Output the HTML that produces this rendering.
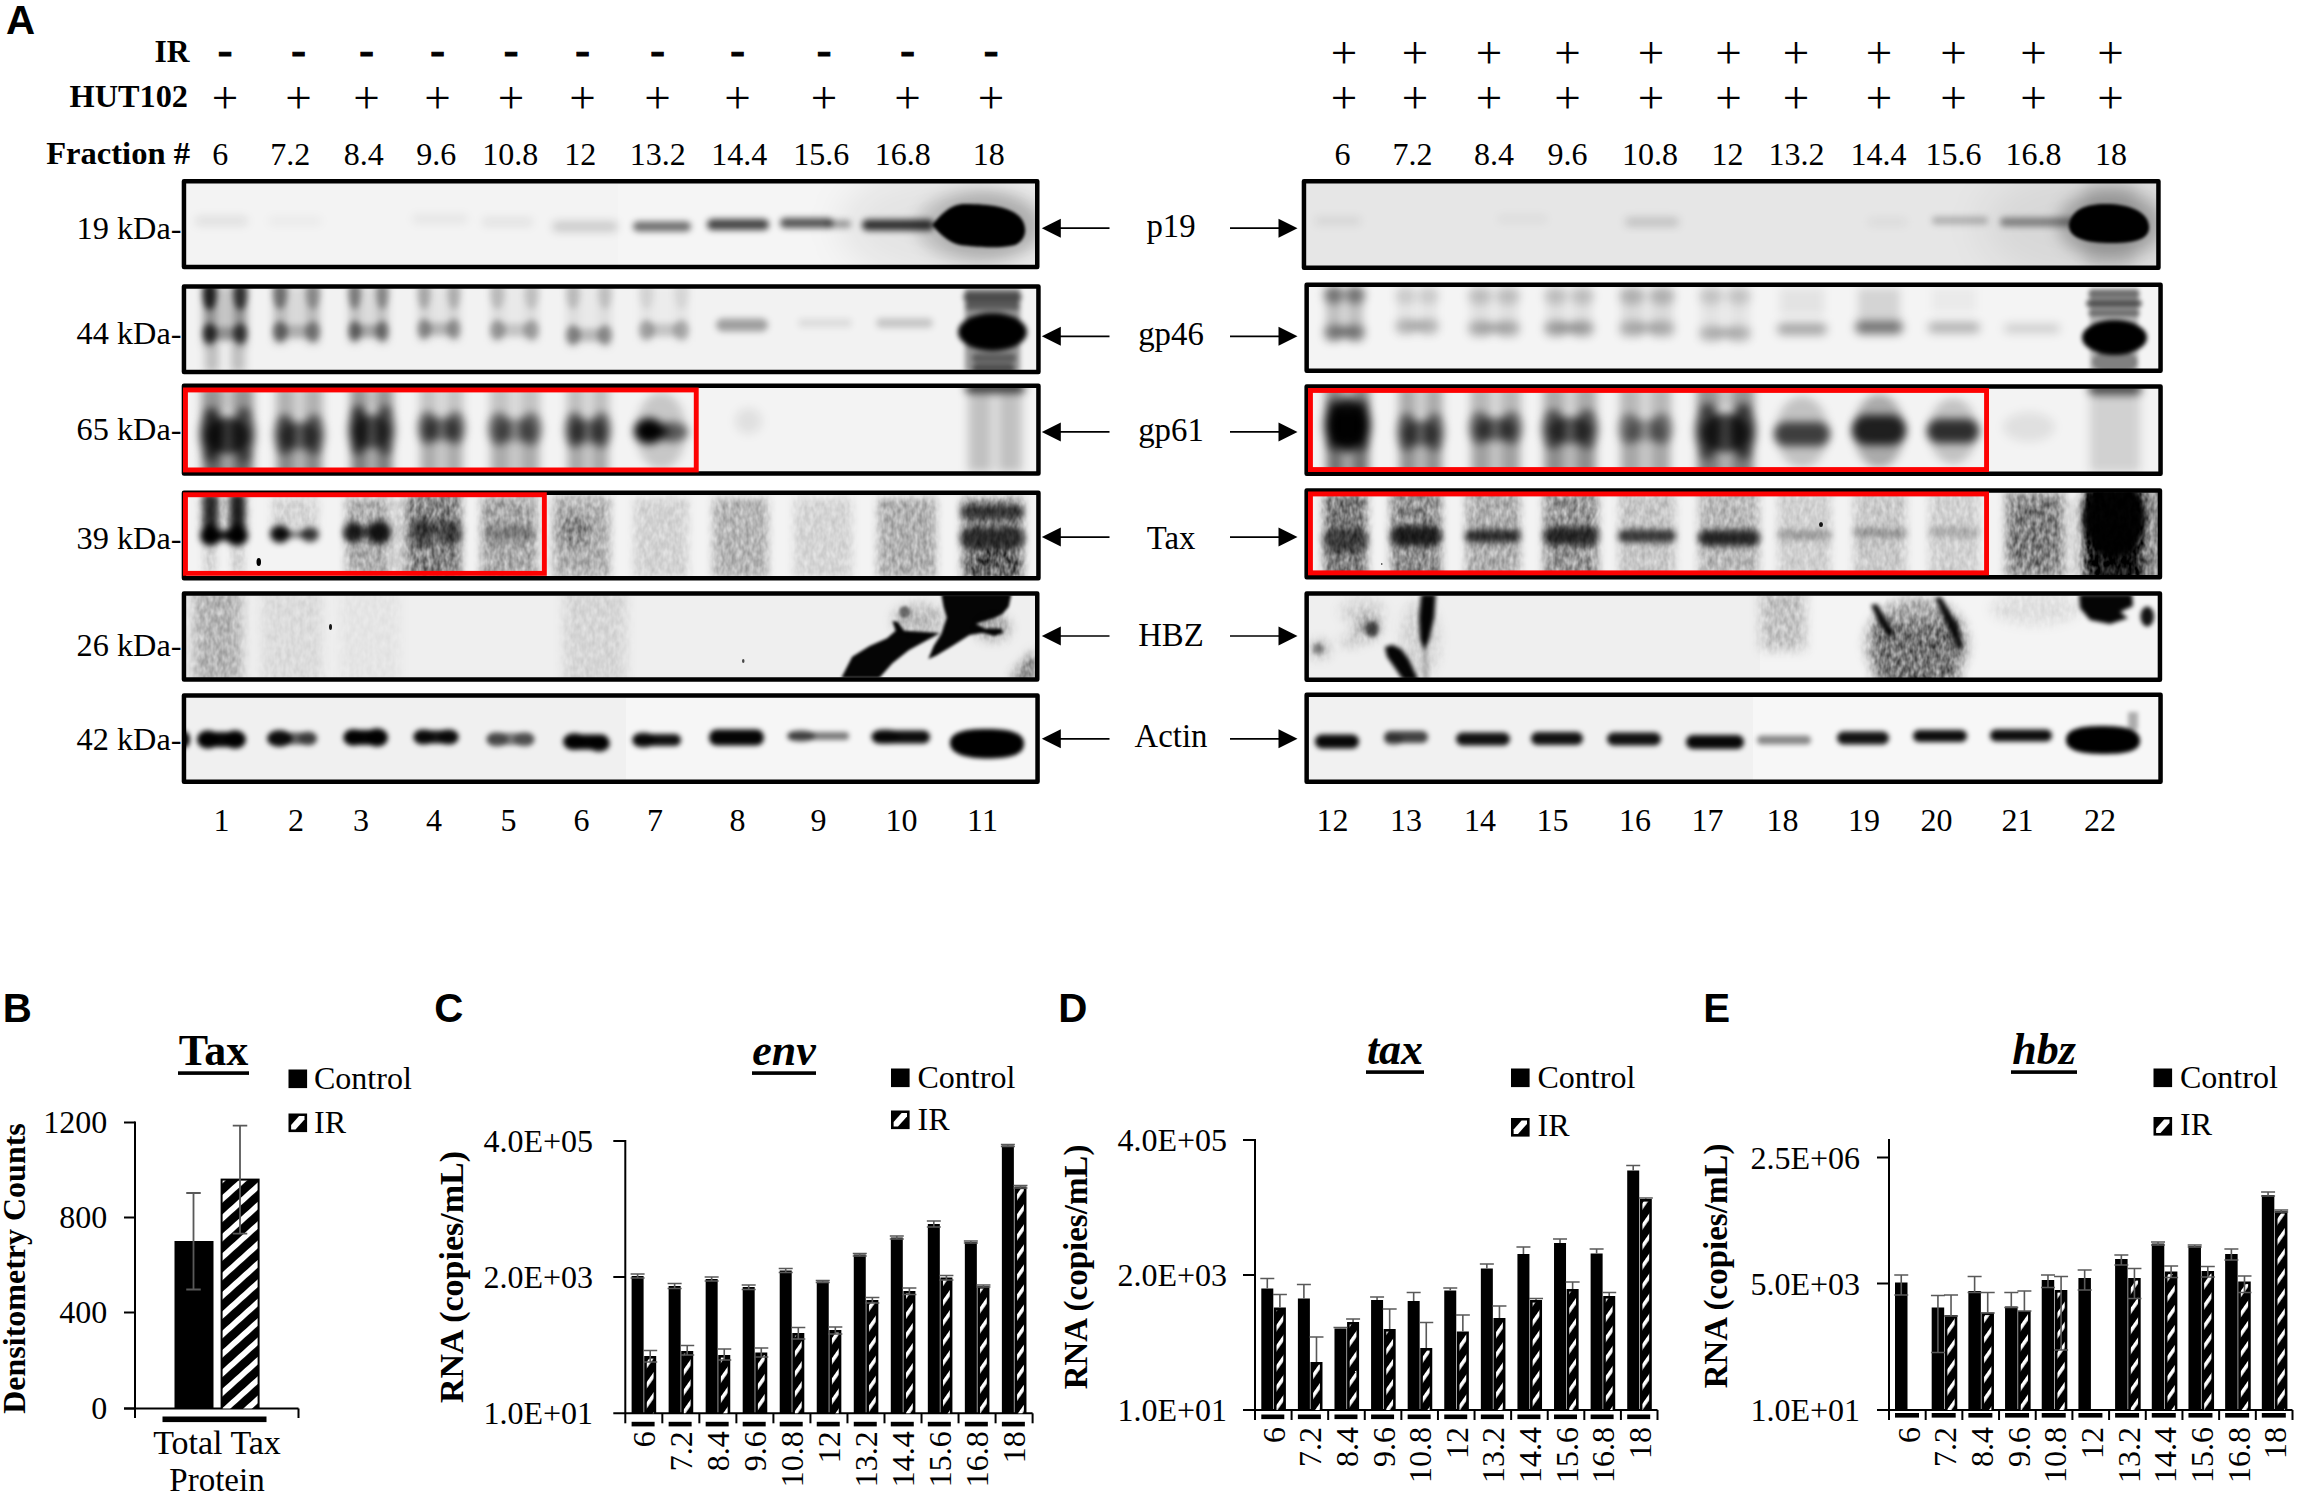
<!DOCTYPE html>
<html lang="en"><head><meta charset="utf-8"><title>Figure</title>
<style>
html,body{margin:0;padding:0;background:#fff;}
svg{display:block;}
.sf{font-family:"Liberation Serif",serif;fill:#000;}
.ss{font-family:"Liberation Sans",sans-serif;fill:#000;}
</style></head><body>
<svg width="2300" height="1497" viewBox="0 0 2300 1497">
<defs>
<filter id="bg4" x="-25%" y="-60%" width="150%" height="220%" color-interpolation-filters="sRGB"><feGaussianBlur stdDeviation="4" result="b"/><feTurbulence type="fractalNoise" baseFrequency="0.22 0.12" numOctaves="2" seed="7" result="n"/><feColorMatrix in="n" type="matrix" values="0 0 0 0 0  0 0 0 0 0  0 0 0 0 0  0 0 0 1 0" result="na"/><feComposite in="b" in2="na" operator="arithmetic" k1="1.5" k2="0.25" k3="0" k4="0"/></filter>
<filter id="bg6" x="-25%" y="-60%" width="150%" height="220%" color-interpolation-filters="sRGB"><feGaussianBlur stdDeviation="6" result="b"/><feTurbulence type="fractalNoise" baseFrequency="0.22 0.12" numOctaves="2" seed="7" result="n"/><feColorMatrix in="n" type="matrix" values="0 0 0 0 0  0 0 0 0 0  0 0 0 0 0  0 0 0 1 0" result="na"/><feComposite in="b" in2="na" operator="arithmetic" k1="1.5" k2="0.25" k3="0" k4="0"/></filter>
<filter id="b0_5" x="-25%" y="-60%" width="150%" height="220%"><feGaussianBlur stdDeviation="0.5"/></filter>
<filter id="b0_6" x="-25%" y="-60%" width="150%" height="220%"><feGaussianBlur stdDeviation="0.6"/></filter>
<filter id="b1_6" x="-25%" y="-60%" width="150%" height="220%"><feGaussianBlur stdDeviation="1.6"/></filter>
<filter id="b1_8" x="-25%" y="-60%" width="150%" height="220%"><feGaussianBlur stdDeviation="1.8"/></filter>
<filter id="b18" x="-25%" y="-60%" width="150%" height="220%"><feGaussianBlur stdDeviation="18"/></filter>
<filter id="b2" x="-25%" y="-60%" width="150%" height="220%"><feGaussianBlur stdDeviation="2"/></filter>
<filter id="b2_3" x="-25%" y="-60%" width="150%" height="220%"><feGaussianBlur stdDeviation="2.3"/></filter>
<filter id="b2_4" x="-25%" y="-60%" width="150%" height="220%"><feGaussianBlur stdDeviation="2.4"/></filter>
<filter id="b2_5" x="-25%" y="-60%" width="150%" height="220%"><feGaussianBlur stdDeviation="2.5"/></filter>
<filter id="b3" x="-25%" y="-60%" width="150%" height="220%"><feGaussianBlur stdDeviation="3"/></filter>
<filter id="b3_2" x="-25%" y="-60%" width="150%" height="220%"><feGaussianBlur stdDeviation="3.2"/></filter>
<filter id="b3_4" x="-25%" y="-60%" width="150%" height="220%"><feGaussianBlur stdDeviation="3.4"/></filter>
<filter id="b4" x="-25%" y="-60%" width="150%" height="220%"><feGaussianBlur stdDeviation="4"/></filter>
<filter id="b4_5" x="-25%" y="-60%" width="150%" height="220%"><feGaussianBlur stdDeviation="4.5"/></filter>
<filter id="b4_6" x="-25%" y="-60%" width="150%" height="220%"><feGaussianBlur stdDeviation="4.6"/></filter>
<filter id="b5" x="-25%" y="-60%" width="150%" height="220%"><feGaussianBlur stdDeviation="5"/></filter>
<filter id="b7" x="-25%" y="-60%" width="150%" height="220%"><feGaussianBlur stdDeviation="7"/></filter>
<pattern id="hatch" patternUnits="userSpaceOnUse" width="14.4" height="14.4" patternTransform="rotate(-42)">
<rect x="0" y="0" width="14.4" height="14.4" fill="#000"/><rect x="0" y="0" width="14.4" height="5.8" fill="#fff"/>
</pattern>
<pattern id="hatchS" patternUnits="userSpaceOnUse" width="11.5" height="11.5" patternTransform="rotate(-55)">
<rect x="0" y="0" width="11.5" height="11.5" fill="#000"/><rect x="0" y="0" width="11.5" height="3.6" fill="#fff"/>
</pattern>
</defs>
<rect x="0" y="0" width="2300" height="1497" fill="#fff"/>
<text class="ss" x="6" y="33.9" font-size="40.3" style="font-weight:bold;">A</text>
<text class="sf" x="189.5" y="61.5" font-size="31.5" text-anchor="end" style="font-weight:bold;" >IR</text>
<text class="sf" x="188" y="106.8" font-size="32.3" text-anchor="end" style="font-weight:bold;" >HUT102</text>
<text class="sf" x="190" y="163.8" font-size="32.6" text-anchor="end" style="font-weight:bold;" >Fraction #</text>
<text class="sf" x="225" y="64.9" font-size="44" text-anchor="middle" stroke="#000" stroke-width="1" style="font-weight:bold;">-</text>
<text class="sf" x="225" y="113.4" font-size="47" text-anchor="middle">+</text>
<text class="sf" x="298.5" y="64.9" font-size="44" text-anchor="middle" stroke="#000" stroke-width="1" style="font-weight:bold;">-</text>
<text class="sf" x="298.5" y="113.4" font-size="47" text-anchor="middle">+</text>
<text class="sf" x="366.5" y="64.9" font-size="44" text-anchor="middle" stroke="#000" stroke-width="1" style="font-weight:bold;">-</text>
<text class="sf" x="366.5" y="113.4" font-size="47" text-anchor="middle">+</text>
<text class="sf" x="437.5" y="64.9" font-size="44" text-anchor="middle" stroke="#000" stroke-width="1" style="font-weight:bold;">-</text>
<text class="sf" x="437.5" y="113.4" font-size="47" text-anchor="middle">+</text>
<text class="sf" x="511" y="64.9" font-size="44" text-anchor="middle" stroke="#000" stroke-width="1" style="font-weight:bold;">-</text>
<text class="sf" x="511" y="113.4" font-size="47" text-anchor="middle">+</text>
<text class="sf" x="582.5" y="64.9" font-size="44" text-anchor="middle" stroke="#000" stroke-width="1" style="font-weight:bold;">-</text>
<text class="sf" x="582.5" y="113.4" font-size="47" text-anchor="middle">+</text>
<text class="sf" x="657.5" y="64.9" font-size="44" text-anchor="middle" stroke="#000" stroke-width="1" style="font-weight:bold;">-</text>
<text class="sf" x="657.5" y="113.4" font-size="47" text-anchor="middle">+</text>
<text class="sf" x="737.5" y="64.9" font-size="44" text-anchor="middle" stroke="#000" stroke-width="1" style="font-weight:bold;">-</text>
<text class="sf" x="737.5" y="113.4" font-size="47" text-anchor="middle">+</text>
<text class="sf" x="824" y="64.9" font-size="44" text-anchor="middle" stroke="#000" stroke-width="1" style="font-weight:bold;">-</text>
<text class="sf" x="824" y="113.4" font-size="47" text-anchor="middle">+</text>
<text class="sf" x="907.5" y="64.9" font-size="44" text-anchor="middle" stroke="#000" stroke-width="1" style="font-weight:bold;">-</text>
<text class="sf" x="907.5" y="113.4" font-size="47" text-anchor="middle">+</text>
<text class="sf" x="991" y="64.9" font-size="44" text-anchor="middle" stroke="#000" stroke-width="1" style="font-weight:bold;">-</text>
<text class="sf" x="991" y="113.4" font-size="47" text-anchor="middle">+</text>
<text class="sf" x="1344" y="68.4" font-size="47" text-anchor="middle">+</text>
<text class="sf" x="1344" y="113.4" font-size="47" text-anchor="middle">+</text>
<text class="sf" x="1415" y="68.4" font-size="47" text-anchor="middle">+</text>
<text class="sf" x="1415" y="113.4" font-size="47" text-anchor="middle">+</text>
<text class="sf" x="1489" y="68.4" font-size="47" text-anchor="middle">+</text>
<text class="sf" x="1489" y="113.4" font-size="47" text-anchor="middle">+</text>
<text class="sf" x="1567.5" y="68.4" font-size="47" text-anchor="middle">+</text>
<text class="sf" x="1567.5" y="113.4" font-size="47" text-anchor="middle">+</text>
<text class="sf" x="1651" y="68.4" font-size="47" text-anchor="middle">+</text>
<text class="sf" x="1651" y="113.4" font-size="47" text-anchor="middle">+</text>
<text class="sf" x="1728.5" y="68.4" font-size="47" text-anchor="middle">+</text>
<text class="sf" x="1728.5" y="113.4" font-size="47" text-anchor="middle">+</text>
<text class="sf" x="1796" y="68.4" font-size="47" text-anchor="middle">+</text>
<text class="sf" x="1796" y="113.4" font-size="47" text-anchor="middle">+</text>
<text class="sf" x="1879" y="68.4" font-size="47" text-anchor="middle">+</text>
<text class="sf" x="1879" y="113.4" font-size="47" text-anchor="middle">+</text>
<text class="sf" x="1953.5" y="68.4" font-size="47" text-anchor="middle">+</text>
<text class="sf" x="1953.5" y="113.4" font-size="47" text-anchor="middle">+</text>
<text class="sf" x="2033.5" y="68.4" font-size="47" text-anchor="middle">+</text>
<text class="sf" x="2033.5" y="113.4" font-size="47" text-anchor="middle">+</text>
<text class="sf" x="2110.5" y="68.4" font-size="47" text-anchor="middle">+</text>
<text class="sf" x="2110.5" y="113.4" font-size="47" text-anchor="middle">+</text>
<text class="sf" x="220.3" y="164.6" font-size="32" text-anchor="middle" style="" >6</text>
<text class="sf" x="290.3" y="164.6" font-size="32" text-anchor="middle" style="" >7.2</text>
<text class="sf" x="363.8" y="164.6" font-size="32" text-anchor="middle" style="" >8.4</text>
<text class="sf" x="436.3" y="164.6" font-size="32" text-anchor="middle" style="" >9.6</text>
<text class="sf" x="510.3" y="164.6" font-size="32" text-anchor="middle" style="" >10.8</text>
<text class="sf" x="580.3" y="164.6" font-size="32" text-anchor="middle" style="" >12</text>
<text class="sf" x="657.8" y="164.6" font-size="32" text-anchor="middle" style="" >13.2</text>
<text class="sf" x="739.3" y="164.6" font-size="32" text-anchor="middle" style="" >14.4</text>
<text class="sf" x="821.3" y="164.6" font-size="32" text-anchor="middle" style="" >15.6</text>
<text class="sf" x="902.8" y="164.6" font-size="32" text-anchor="middle" style="" >16.8</text>
<text class="sf" x="988.8" y="164.6" font-size="32" text-anchor="middle" style="" >18</text>
<text class="sf" x="1342.5" y="164.5" font-size="32" text-anchor="middle" style="" >6</text>
<text class="sf" x="1412.5" y="164.5" font-size="32" text-anchor="middle" style="" >7.2</text>
<text class="sf" x="1494" y="164.5" font-size="32" text-anchor="middle" style="" >8.4</text>
<text class="sf" x="1567.5" y="164.5" font-size="32" text-anchor="middle" style="" >9.6</text>
<text class="sf" x="1650" y="164.5" font-size="32" text-anchor="middle" style="" >10.8</text>
<text class="sf" x="1727.5" y="164.5" font-size="32" text-anchor="middle" style="" >12</text>
<text class="sf" x="1796.5" y="164.5" font-size="32" text-anchor="middle" style="" >13.2</text>
<text class="sf" x="1878.5" y="164.5" font-size="32" text-anchor="middle" style="" >14.4</text>
<text class="sf" x="1953.5" y="164.5" font-size="32" text-anchor="middle" style="" >15.6</text>
<text class="sf" x="2033.5" y="164.5" font-size="32" text-anchor="middle" style="" >16.8</text>
<text class="sf" x="2111" y="164.5" font-size="32" text-anchor="middle" style="" >18</text>
<text class="sf" x="221.5" y="831" font-size="32" text-anchor="middle" style="" >1</text>
<text class="sf" x="296" y="831" font-size="32" text-anchor="middle" style="" >2</text>
<text class="sf" x="361" y="831" font-size="32" text-anchor="middle" style="" >3</text>
<text class="sf" x="434" y="831" font-size="32" text-anchor="middle" style="" >4</text>
<text class="sf" x="508.5" y="831" font-size="32" text-anchor="middle" style="" >5</text>
<text class="sf" x="581.5" y="831" font-size="32" text-anchor="middle" style="" >6</text>
<text class="sf" x="655" y="831" font-size="32" text-anchor="middle" style="" >7</text>
<text class="sf" x="737.5" y="831" font-size="32" text-anchor="middle" style="" >8</text>
<text class="sf" x="818.5" y="831" font-size="32" text-anchor="middle" style="" >9</text>
<text class="sf" x="901.5" y="831" font-size="32" text-anchor="middle" style="" >10</text>
<text class="sf" x="982.5" y="831" font-size="32" text-anchor="middle" style="" >11</text>
<text class="sf" x="1332.5" y="831" font-size="32" text-anchor="middle" style="" >12</text>
<text class="sf" x="1406" y="831" font-size="32" text-anchor="middle" style="" >13</text>
<text class="sf" x="1480" y="831" font-size="32" text-anchor="middle" style="" >14</text>
<text class="sf" x="1552.5" y="831" font-size="32" text-anchor="middle" style="" >15</text>
<text class="sf" x="1635" y="831" font-size="32" text-anchor="middle" style="" >16</text>
<text class="sf" x="1707.5" y="831" font-size="32" text-anchor="middle" style="" >17</text>
<text class="sf" x="1782.5" y="831" font-size="32" text-anchor="middle" style="" >18</text>
<text class="sf" x="1864" y="831" font-size="32" text-anchor="middle" style="" >19</text>
<text class="sf" x="1936.5" y="831" font-size="32" text-anchor="middle" style="" >20</text>
<text class="sf" x="2017.5" y="831" font-size="32" text-anchor="middle" style="" >21</text>
<text class="sf" x="2100" y="831" font-size="32" text-anchor="middle" style="" >22</text>
<text class="sf" x="181.5" y="238.8" font-size="32.3" text-anchor="end" style="" >19 kDa-</text>
<text class="sf" x="181.5" y="344.3" font-size="32.3" text-anchor="end" style="" >44 kDa-</text>
<text class="sf" x="181.5" y="440" font-size="32.3" text-anchor="end" style="" >65 kDa-</text>
<text class="sf" x="181.5" y="549" font-size="32.3" text-anchor="end" style="" >39 kDa-</text>
<text class="sf" x="181.5" y="656.2" font-size="32.3" text-anchor="end" style="" >26 kDa-</text>
<text class="sf" x="181.5" y="749.8" font-size="32.3" text-anchor="end" style="" >42 kDa-</text>
<text class="sf" x="1171" y="237.1" font-size="32.8" text-anchor="middle" style="" >p19</text>
<line x1="1109.5" y1="228.2" x2="1051.8" y2="228.2" stroke="#000" stroke-width="1.7"/>
<polygon points="1041.8,228.2 1060.8,218.7 1060.8,237.7" fill="#000"/>
<line x1="1230" y1="228.2" x2="1287.5" y2="228.2" stroke="#000" stroke-width="1.7"/>
<polygon points="1297.5,228.2 1278.5,218.7 1278.5,237.7" fill="#000"/>
<text class="sf" x="1171" y="344.9" font-size="32.8" text-anchor="middle" style="" >gp46</text>
<line x1="1109.5" y1="336.3" x2="1051.8" y2="336.3" stroke="#000" stroke-width="1.7"/>
<polygon points="1041.8,336.3 1060.8,326.8 1060.8,345.8" fill="#000"/>
<line x1="1230" y1="336.3" x2="1287.5" y2="336.3" stroke="#000" stroke-width="1.7"/>
<polygon points="1297.5,336.3 1278.5,326.8 1278.5,345.8" fill="#000"/>
<text class="sf" x="1171" y="441" font-size="32.8" text-anchor="middle" style="" >gp61</text>
<line x1="1109.5" y1="431.9" x2="1051.8" y2="431.9" stroke="#000" stroke-width="1.7"/>
<polygon points="1041.8,431.9 1060.8,422.4 1060.8,441.4" fill="#000"/>
<line x1="1230" y1="431.9" x2="1287.5" y2="431.9" stroke="#000" stroke-width="1.7"/>
<polygon points="1297.5,431.9 1278.5,422.4 1278.5,441.4" fill="#000"/>
<text class="sf" x="1171" y="548.5" font-size="32.8" text-anchor="middle" style="" >Tax</text>
<line x1="1109.5" y1="537.1" x2="1051.8" y2="537.1" stroke="#000" stroke-width="1.7"/>
<polygon points="1041.8,537.1 1060.8,527.6 1060.8,546.6" fill="#000"/>
<line x1="1230" y1="537.1" x2="1287.5" y2="537.1" stroke="#000" stroke-width="1.7"/>
<polygon points="1297.5,537.1 1278.5,527.6 1278.5,546.6" fill="#000"/>
<text class="sf" x="1171" y="646" font-size="32.8" text-anchor="middle" style="" >HBZ</text>
<line x1="1109.5" y1="636" x2="1051.8" y2="636" stroke="#000" stroke-width="1.7"/>
<polygon points="1041.8,636 1060.8,626.5 1060.8,645.5" fill="#000"/>
<line x1="1230" y1="636" x2="1287.5" y2="636" stroke="#000" stroke-width="1.7"/>
<polygon points="1297.5,636 1278.5,626.5 1278.5,645.5" fill="#000"/>
<text class="sf" x="1171" y="747" font-size="32.8" text-anchor="middle" style="" >Actin</text>
<line x1="1109.5" y1="738.8" x2="1051.8" y2="738.8" stroke="#000" stroke-width="1.7"/>
<polygon points="1041.8,738.8 1060.8,729.3 1060.8,748.3" fill="#000"/>
<line x1="1230" y1="738.8" x2="1287.5" y2="738.8" stroke="#000" stroke-width="1.7"/>
<polygon points="1297.5,738.8 1278.5,729.3 1278.5,748.3" fill="#000"/>
<clipPath id="cp1"><rect x="185.7" y="183.1" width="849.8" height="82.20000000000002"/></clipPath>
<g clip-path="url(#cp1)">
<rect x="185.7" y="183.1" width="849.8" height="82.20000000000002" fill="#f3f3f3"/>
<rect x="618" y="183.1" width="422" height="82.20000000000002" fill="#f5f5f5"/>
<g filter="url(#b18)">
<ellipse cx="965.0" cy="225.0" rx="125.0" ry="60.0" fill="#000" fill-opacity="0.07"/>
</g>
<g filter="url(#b7)">
<ellipse cx="980.0" cy="226.0" rx="65.0" ry="38.0" fill="#000" fill-opacity="0.14"/>
<ellipse cx="985.0" cy="225.5" rx="50.0" ry="30.5" fill="#000" fill-opacity="0.12"/>
</g>
<g filter="url(#b4)">
<path d="M200.0,216.0 H243.0 A5.0,5.0 0 0 1 243.0,226.0 H200.0 A5.0,5.0 0 0 1 200.0,216.0 Z" fill="#000" fill-opacity="0.08"/>
<path d="M272.5,216.5 H317.5 A4.5,4.5 0 0 1 317.5,225.5 H272.5 A4.5,4.5 0 0 1 272.5,216.5 Z" fill="#000" fill-opacity="0.035"/>
<path d="M417.0,214.0 H463.0 A5.0,5.0 0 0 1 463.0,224.0 H417.0 A5.0,5.0 0 0 1 417.0,214.0 Z" fill="#000" fill-opacity="0.05"/>
<path d="M486.5,217.5 H528.5 A4.5,4.5 0 0 1 528.5,226.5 H486.5 A4.5,4.5 0 0 1 486.5,217.5 Z" fill="#000" fill-opacity="0.07"/>
<path d="M557.5,221.0 H612.5 A5.5,5.5 0 0 1 612.5,232.0 H557.5 A5.5,5.5 0 0 1 557.5,221.0 Z" fill="#000" fill-opacity="0.16"/>
</g>
<g filter="url(#b3_2)">
<path d="M638.0,221.5 H686.0 A5.0,5.0 0 0 1 686.0,231.5 H638.0 A5.0,5.0 0 0 1 638.0,221.5 Z" fill="#000" fill-opacity="0.55"/>
<path d="M712.5,219.0 H763.5 A5.5,5.5 0 0 1 763.5,230.0 H712.5 A5.5,5.5 0 0 1 712.5,219.0 Z" fill="#000" fill-opacity="0.72"/>
<path d="M785.0,218.0 H828.0 A5.0,5.0 0 0 1 828.0,228.0 H785.0 A5.0,5.0 0 0 1 785.0,218.0 Z" fill="#000" fill-opacity="0.66"/>
<path d="M830.0,220.0 H847.0 A4.0,4.0 0 0 1 847.0,228.0 H830.0 A4.0,4.0 0 0 1 830.0,220.0 Z" fill="#000" fill-opacity="0.36"/>
<path d="M867.5,219.5 H928.5 A5.5,5.5 0 0 1 928.5,230.5 H867.5 A5.5,5.5 0 0 1 867.5,219.5 Z" fill="#000" fill-opacity="0.8"/>
</g>
<g filter="url(#b1_6)">
<path d="M932,225 C942,214 950,204 965,204 C990,204 1010,207 1020,217 C1028,226 1027,240 1015,245 C1000,249 975,247 960,245 C948,242 940,234 932,225 Z" fill="#000" fill-opacity="1"/>
</g>
</g>
<rect x="183.95" y="181.35" width="853.3" height="85.70000000000002" fill="none" stroke="#000" stroke-width="4.5" stroke-linejoin="round"/>
<clipPath id="cp2"><rect x="185.7" y="288.3" width="851.0" height="82.0"/></clipPath>
<g clip-path="url(#cp2)">
<rect x="185.7" y="288.3" width="851.0" height="82.0" fill="#f2f2f2"/>
<g filter="url(#b4)">
<rect x="204" y="286" width="11.340000000000003" height="59.5" fill="#000" fill-opacity="0.45"/>
<rect x="234.66" y="286" width="11.340000000000003" height="59.5" fill="#000" fill-opacity="0.45"/>
<rect x="215.34" y="286" width="19.319999999999993" height="55.5" fill="#000" fill-opacity="0.18"/>
<rect x="274" y="286" width="12.149999999999977" height="57.5" fill="#000" fill-opacity="0.252"/>
<rect x="306.85" y="286" width="12.149999999999977" height="57.5" fill="#000" fill-opacity="0.252"/>
<rect x="286.15" y="286" width="20.700000000000045" height="53.5" fill="#000" fill-opacity="0.101"/>
<rect x="349.5" y="286" width="10.259999999999991" height="57" fill="#000" fill-opacity="0.228"/>
<rect x="377.24" y="286" width="10.259999999999991" height="57" fill="#000" fill-opacity="0.228"/>
<rect x="359.76" y="286" width="17.480000000000018" height="53" fill="#000" fill-opacity="0.091"/>
<rect x="418.5" y="286" width="11.069999999999993" height="55" fill="#000" fill-opacity="0.132"/>
<rect x="448.43" y="286" width="11.069999999999993" height="55" fill="#000" fill-opacity="0.132"/>
<rect x="429.57" y="286" width="18.860000000000014" height="51" fill="#000" fill-opacity="0.053"/>
<rect x="491" y="286" width="12.689999999999998" height="56" fill="#000" fill-opacity="0.096"/>
<rect x="525.31" y="286" width="12.690000000000055" height="56" fill="#000" fill-opacity="0.096"/>
<rect x="503.69" y="286" width="21.619999999999948" height="52" fill="#000" fill-opacity="0.038"/>
<rect x="567" y="286" width="11.879999999999995" height="61" fill="#000" fill-opacity="0.096"/>
<rect x="599.12" y="286" width="11.879999999999995" height="61" fill="#000" fill-opacity="0.096"/>
<rect x="578.88" y="286" width="20.24000000000001" height="57" fill="#000" fill-opacity="0.038"/>
<rect x="640" y="286" width="12.960000000000036" height="56" fill="#000" fill-opacity="0.06"/>
<rect x="675.04" y="286" width="12.960000000000036" height="56" fill="#000" fill-opacity="0.06"/>
<rect x="652.96" y="286" width="22.079999999999927" height="52" fill="#000" fill-opacity="0.024"/>
<rect x="205" y="345" width="14" height="27" fill="#000" fill-opacity="0.22"/>
<rect x="231" y="345" width="14" height="27" fill="#000" fill-opacity="0.22"/>
</g>
<g filter="url(#b3_4)">
<ellipse cx="209.67000000000002" cy="294.0" rx="6.670000000000002" ry="16.0" fill="#000" fill-opacity="0.8"/>
<ellipse cx="240.32999999999998" cy="294.0" rx="6.670000000000002" ry="16.0" fill="#000" fill-opacity="0.68"/>
<ellipse cx="209.67000000000002" cy="333.5" rx="6.670000000000002" ry="10.0" fill="#000" fill-opacity="0.75"/>
<ellipse cx="240.32999999999998" cy="333.5" rx="6.670000000000002" ry="10.0" fill="#000" fill-opacity="0.675"/>
<rect x="213.072" y="327.0" width="23.855999999999995" height="13.0" fill="#000" fill-opacity="0.27"/>
<ellipse cx="280.075" cy="293.5" rx="7.074999999999989" ry="15.5" fill="#000" fill-opacity="0.42"/>
<ellipse cx="312.925" cy="293.5" rx="7.074999999999989" ry="15.5" fill="#000" fill-opacity="0.28"/>
<ellipse cx="280.075" cy="331.5" rx="7.074999999999989" ry="10.0" fill="#000" fill-opacity="0.5"/>
<ellipse cx="312.925" cy="331.5" rx="7.074999999999989" ry="10.0" fill="#000" fill-opacity="0.4"/>
<rect x="283.72" y="325.0" width="25.559999999999945" height="13.0" fill="#000" fill-opacity="0.2"/>
<ellipse cx="354.63" cy="293.5" rx="6.1299999999999955" ry="15.5" fill="#000" fill-opacity="0.38"/>
<ellipse cx="382.37" cy="293.5" rx="6.1299999999999955" ry="15.5" fill="#000" fill-opacity="0.323"/>
<ellipse cx="354.63" cy="331.0" rx="6.1299999999999955" ry="10.0" fill="#000" fill-opacity="0.52"/>
<ellipse cx="382.37" cy="331.0" rx="6.1299999999999955" ry="10.0" fill="#000" fill-opacity="0.468"/>
<rect x="357.708" y="324.5" width="21.583999999999946" height="13.0" fill="#000" fill-opacity="0.25"/>
<ellipse cx="424.03499999999997" cy="293.5" rx="6.534999999999997" ry="15.5" fill="#000" fill-opacity="0.22"/>
<ellipse cx="453.96500000000003" cy="293.5" rx="6.534999999999997" ry="15.5" fill="#000" fill-opacity="0.187"/>
<ellipse cx="424.03499999999997" cy="329.0" rx="6.534999999999997" ry="10.0" fill="#000" fill-opacity="0.38"/>
<ellipse cx="453.96500000000003" cy="329.0" rx="6.534999999999997" ry="10.0" fill="#000" fill-opacity="0.342"/>
<rect x="427.356" y="322.5" width="23.28800000000001" height="13.0" fill="#000" fill-opacity="0.213"/>
<ellipse cx="497.345" cy="293.5" rx="7.344999999999999" ry="15.5" fill="#000" fill-opacity="0.16"/>
<ellipse cx="531.655" cy="293.5" rx="7.345000000000027" ry="15.5" fill="#000" fill-opacity="0.136"/>
<ellipse cx="497.345" cy="330.0" rx="7.344999999999999" ry="10.0" fill="#000" fill-opacity="0.33"/>
<ellipse cx="531.655" cy="330.0" rx="7.345000000000027" ry="10.0" fill="#000" fill-opacity="0.297"/>
<rect x="501.152" y="323.5" width="26.69599999999997" height="13.0" fill="#000" fill-opacity="0.158"/>
<ellipse cx="572.94" cy="293.5" rx="6.939999999999998" ry="15.5" fill="#000" fill-opacity="0.16"/>
<ellipse cx="605.06" cy="293.5" rx="6.939999999999998" ry="15.5" fill="#000" fill-opacity="0.136"/>
<ellipse cx="572.94" cy="335.0" rx="6.939999999999998" ry="10.0" fill="#000" fill-opacity="0.42"/>
<ellipse cx="605.06" cy="335.0" rx="6.939999999999998" ry="10.0" fill="#000" fill-opacity="0.378"/>
<rect x="576.504" y="328.5" width="24.991999999999962" height="13.0" fill="#000" fill-opacity="0.202"/>
<ellipse cx="646.48" cy="293.5" rx="7.480000000000018" ry="15.5" fill="#000" fill-opacity="0.08"/>
<ellipse cx="681.52" cy="293.5" rx="7.480000000000018" ry="15.5" fill="#000" fill-opacity="0.068"/>
<ellipse cx="646.48" cy="330.0" rx="7.480000000000018" ry="10.0" fill="#000" fill-opacity="0.3"/>
<ellipse cx="681.52" cy="330.0" rx="7.480000000000018" ry="10.0" fill="#000" fill-opacity="0.27"/>
<rect x="650.368" y="323.5" width="27.263999999999896" height="13.0" fill="#000" fill-opacity="0.168"/>
<path d="M722.5,318.5 H761.5 A6.5,6.5 0 0 1 761.5,331.5 H722.5 A6.5,6.5 0 0 1 722.5,318.5 Z" fill="#000" fill-opacity="0.34"/>
<path d="M802.5,318.5 H847.5 A4.5,4.5 0 0 1 847.5,327.5 H802.5 A4.5,4.5 0 0 1 802.5,318.5 Z" fill="#000" fill-opacity="0.09"/>
<path d="M881.0,318.0 H928.0 A5.0,5.0 0 0 1 928.0,328.0 H881.0 A5.0,5.0 0 0 1 881.0,318.0 Z" fill="#000" fill-opacity="0.18"/>
</g>
<g filter="url(#b2_5)">
<ellipse cx="992.5" cy="332.0" rx="34.5" ry="19.0" fill="#000" fill-opacity="1"/>
<ellipse cx="992.5" cy="332.0" rx="30.5" ry="16.0" fill="#000" fill-opacity="1"/>
<path d="M968.0,292.0 H1017.0 A5.0,5.0 0 0 1 1017.0,302.0 H968.0 A5.0,5.0 0 0 1 968.0,292.0 Z" fill="#000" fill-opacity="0.5"/>
<path d="M969.0,302.0 H1016.0 A4.0,4.0 0 0 1 1016.0,310.0 H969.0 A4.0,4.0 0 0 1 969.0,302.0 Z" fill="#000" fill-opacity="0.4"/>
<rect x="965" y="288" width="55" height="84" fill="#000" fill-opacity="0.38"/>
<path d="M976.5,353.5 H1011.5 A4.5,4.5 0 0 1 1011.5,362.5 H976.5 A4.5,4.5 0 0 1 976.5,353.5 Z" fill="#000" fill-opacity="0.4"/>
<path d="M977.0,364.0 H1010.0 A5.0,5.0 0 0 1 1010.0,374.0 H977.0 A5.0,5.0 0 0 1 977.0,364.0 Z" fill="#000" fill-opacity="0.5"/>
</g>
</g>
<rect x="183.95" y="286.55" width="854.5" height="85.5" fill="none" stroke="#000" stroke-width="4.5" stroke-linejoin="round"/>
<clipPath id="cp3"><rect x="185.7" y="387.6" width="851.0" height="84.09999999999997"/></clipPath>
<g clip-path="url(#cp3)">
<rect x="185.7" y="387.6" width="851.0" height="84.09999999999997" fill="#f3f3f3"/>
<g filter="url(#b5)">
<rect x="201.9" y="386" width="19.292" height="30" fill="#000" fill-opacity="0.4"/>
<rect x="234.008" y="386" width="19.292" height="30" fill="#000" fill-opacity="0.4"/>
<rect x="221.192" y="386" width="12.816000000000003" height="26" fill="#000" fill-opacity="0.18"/>
<rect x="202.9" y="452" width="18.292" height="26" fill="#000" fill-opacity="0.6"/>
<rect x="234.008" y="452" width="18.292" height="26" fill="#000" fill-opacity="0.6"/>
<rect x="221.192" y="456" width="12.816000000000003" height="22" fill="#000" fill-opacity="0.33"/>
<rect x="276.2" y="386" width="17.353999999999985" height="37" fill="#000" fill-opacity="0.28"/>
<rect x="305.146" y="386" width="17.353999999999985" height="37" fill="#000" fill-opacity="0.28"/>
<rect x="293.554" y="386" width="11.592000000000041" height="33" fill="#000" fill-opacity="0.126"/>
<rect x="277.2" y="446" width="16.353999999999985" height="32" fill="#000" fill-opacity="0.45"/>
<rect x="305.146" y="446" width="16.353999999999985" height="32" fill="#000" fill-opacity="0.45"/>
<rect x="293.554" y="450" width="11.592000000000041" height="28" fill="#000" fill-opacity="0.248"/>
<rect x="350.6" y="386" width="15.834000000000003" height="28" fill="#000" fill-opacity="0.4"/>
<rect x="377.066" y="386" width="15.834000000000003" height="28" fill="#000" fill-opacity="0.4"/>
<rect x="366.434" y="386" width="10.631999999999948" height="24" fill="#000" fill-opacity="0.18"/>
<rect x="351.6" y="446" width="14.834000000000003" height="32" fill="#000" fill-opacity="0.5"/>
<rect x="377.066" y="446" width="14.834000000000003" height="32" fill="#000" fill-opacity="0.5"/>
<rect x="366.434" y="450" width="10.631999999999948" height="28" fill="#000" fill-opacity="0.275"/>
<rect x="419.7" y="386" width="16.32800000000003" height="34" fill="#000" fill-opacity="0.2"/>
<rect x="446.972" y="386" width="16.32800000000003" height="34" fill="#000" fill-opacity="0.2"/>
<rect x="436.028" y="386" width="10.94399999999996" height="30" fill="#000" fill-opacity="0.09"/>
<rect x="420.7" y="436" width="15.328000000000031" height="42" fill="#000" fill-opacity="0.3"/>
<rect x="446.972" y="436" width="15.328000000000031" height="42" fill="#000" fill-opacity="0.3"/>
<rect x="436.028" y="440" width="10.94399999999996" height="38" fill="#000" fill-opacity="0.165"/>
<rect x="490" y="386" width="18.75999999999999" height="35" fill="#000" fill-opacity="0.2"/>
<rect x="521.24" y="386" width="18.75999999999999" height="35" fill="#000" fill-opacity="0.2"/>
<rect x="508.76" y="386" width="12.480000000000018" height="31" fill="#000" fill-opacity="0.09"/>
<rect x="491" y="437" width="17.75999999999999" height="41" fill="#000" fill-opacity="0.3"/>
<rect x="521.24" y="437" width="17.75999999999999" height="41" fill="#000" fill-opacity="0.3"/>
<rect x="508.76" y="441" width="12.480000000000018" height="37" fill="#000" fill-opacity="0.165"/>
<rect x="567" y="386" width="15.720000000000027" height="35" fill="#000" fill-opacity="0.22"/>
<rect x="593.28" y="386" width="15.720000000000027" height="35" fill="#000" fill-opacity="0.22"/>
<rect x="582.72" y="386" width="10.559999999999945" height="31" fill="#000" fill-opacity="0.099"/>
<rect x="568" y="439" width="14.720000000000027" height="39" fill="#000" fill-opacity="0.32"/>
<rect x="593.28" y="439" width="14.720000000000027" height="39" fill="#000" fill-opacity="0.32"/>
<rect x="582.72" y="443" width="10.559999999999945" height="35" fill="#000" fill-opacity="0.176"/>
<ellipse cx="661.0" cy="431.0" rx="25.0" ry="39.0" fill="#000" fill-opacity="0.18"/>
<ellipse cx="748.5" cy="421.0" rx="13.5" ry="13.0" fill="#000" fill-opacity="0.08"/>
<rect x="968" y="389" width="20" height="83" fill="#000" fill-opacity="0.2"/>
<rect x="1002" y="389" width="20" height="83" fill="#000" fill-opacity="0.2"/>
<rect x="985" y="389" width="20" height="83" fill="#000" fill-opacity="0.1"/>
</g>
<g filter="url(#b4)">
<ellipse cx="211.546" cy="434.0" rx="11.646" ry="26.0" fill="#000" fill-opacity="0.795"/>
<ellipse cx="243.654" cy="434.0" rx="11.646" ry="26.0" fill="#000" fill-opacity="0.672"/>
<ellipse cx="227.60000000000002" cy="436.08" rx="21.626999999999995" ry="19.75999999999999" fill="#000" fill-opacity="0.76"/>
<ellipse cx="284.87699999999995" cy="434.5" rx="10.676999999999992" ry="19.5" fill="#000" fill-opacity="0.672"/>
<ellipse cx="313.823" cy="434.5" rx="10.676999999999992" ry="19.5" fill="#000" fill-opacity="0.623"/>
<ellipse cx="299.35" cy="436.06" rx="19.561499999999995" ry="14.819999999999993" fill="#000" fill-opacity="0.589"/>
<ellipse cx="358.51700000000005" cy="430.0" rx="9.917000000000002" ry="24.0" fill="#000" fill-opacity="0.779"/>
<ellipse cx="384.98299999999995" cy="430.0" rx="9.917000000000002" ry="24.0" fill="#000" fill-opacity="0.672"/>
<ellipse cx="371.75" cy="431.92" rx="17.941499999999962" ry="18.24000000000001" fill="#000" fill-opacity="0.646"/>
<ellipse cx="427.86400000000003" cy="428.0" rx="10.164000000000016" ry="16.0" fill="#000" fill-opacity="0.59"/>
<ellipse cx="455.13599999999997" cy="428.0" rx="10.164000000000016" ry="16.0" fill="#000" fill-opacity="0.574"/>
<ellipse cx="441.5" cy="429.28" rx="18.468000000000018" ry="12.159999999999997" fill="#000" fill-opacity="0.522"/>
<ellipse cx="499.38" cy="429.0" rx="11.379999999999995" ry="16.0" fill="#000" fill-opacity="0.558"/>
<ellipse cx="530.62" cy="429.0" rx="11.379999999999995" ry="16.0" fill="#000" fill-opacity="0.541"/>
<ellipse cx="515.0" cy="430.28" rx="21.059999999999974" ry="12.159999999999997" fill="#000" fill-opacity="0.427"/>
<ellipse cx="574.86" cy="430.0" rx="9.860000000000014" ry="17.0" fill="#000" fill-opacity="0.64"/>
<ellipse cx="601.14" cy="430.0" rx="9.860000000000014" ry="17.0" fill="#000" fill-opacity="0.607"/>
<ellipse cx="588.0" cy="431.36" rx="17.82000000000005" ry="12.919999999999987" fill="#000" fill-opacity="0.522"/>
<ellipse cx="649.0" cy="431.0" rx="15.0" ry="13.0" fill="#000" fill-opacity="0.9"/>
<ellipse cx="671.5" cy="432.0" rx="16.5" ry="10.0" fill="#000" fill-opacity="0.55"/>
<ellipse cx="649.0" cy="431.0" rx="11.0" ry="11.0" fill="#000" fill-opacity="0.9"/>
<rect x="650" y="425" width="20" height="13" fill="#000" fill-opacity="0.4"/>
<path d="M970.0,383.0 H1020.0 A5.0,5.0 0 0 1 1020.0,393.0 H970.0 A5.0,5.0 0 0 1 970.0,383.0 Z" fill="#000" fill-opacity="0.8"/>
</g>
</g>
<rect x="183.95" y="385.85" width="854.5" height="87.59999999999997" fill="none" stroke="#000" stroke-width="4.5" stroke-linejoin="round"/>
<rect x="185.45" y="389.95" width="510.8" height="80.0" fill="none" stroke="#fd0202" stroke-width="4.9"/>
<clipPath id="cp4"><rect x="185.7" y="494.4" width="851.0" height="82.20000000000005"/></clipPath>
<g clip-path="url(#cp4)">
<rect x="185.7" y="494.4" width="851.0" height="82.20000000000005" fill="#f3f3f3"/>
<g filter="url(#bg4)">
<rect x="205" y="545" width="10" height="27" fill="#000" fill-opacity="0.18"/>
<rect x="233" y="545" width="10" height="27" fill="#000" fill-opacity="0.18"/>
<rect x="200" y="496" width="48" height="34" fill="#000" fill-opacity="0.15"/>
<rect x="272" y="498" width="46" height="30" fill="#000" fill-opacity="0.12"/>
<rect x="346" y="498" width="44" height="78" fill="#000" fill-opacity="0.28"/>
<rect x="408" y="494" width="53" height="84" fill="#000" fill-opacity="0.45"/>
<rect x="394" y="500" width="16" height="76" fill="#000" fill-opacity="0.15"/>
<rect x="481" y="496" width="56" height="82" fill="#000" fill-opacity="0.3"/>
<rect x="553" y="496" width="57" height="82" fill="#000" fill-opacity="0.27"/>
<ellipse cx="575.0" cy="531.5" rx="17.0" ry="16.5" fill="#000" fill-opacity="0.2"/>
<rect x="634" y="498" width="54" height="80" fill="#000" fill-opacity="0.13"/>
<rect x="713" y="498" width="55" height="80" fill="#000" fill-opacity="0.25"/>
<rect x="794" y="498" width="58" height="80" fill="#000" fill-opacity="0.12"/>
<rect x="878" y="498" width="58" height="80" fill="#000" fill-opacity="0.27"/>
<rect x="962" y="498" width="61" height="80" fill="#000" fill-opacity="0.4"/>
<ellipse cx="993.5" cy="567.5" rx="28.5" ry="22.5" fill="#000" fill-opacity="0.35"/>
</g>
<g filter="url(#b3)">
<rect x="203" y="494" width="15" height="36" fill="#000" fill-opacity="0.8"/>
<rect x="230" y="494" width="15" height="36" fill="#000" fill-opacity="0.85"/>
<ellipse cx="210.5" cy="535.5" rx="10.5" ry="10.5" fill="#000" fill-opacity="1"/>
<ellipse cx="237.0" cy="535.5" rx="11.0" ry="10.5" fill="#000" fill-opacity="1"/>
<rect x="212" y="530" width="22" height="11" fill="#000" fill-opacity="0.85"/>
<ellipse cx="280.0" cy="534.0" rx="10.0" ry="9.0" fill="#000" fill-opacity="0.95"/>
<ellipse cx="310.0" cy="534.5" rx="9.0" ry="7.5" fill="#000" fill-opacity="0.78"/>
<rect x="282" y="531" width="24" height="7" fill="#000" fill-opacity="0.5"/>
<ellipse cx="353.5" cy="532.5" rx="10.5" ry="10.5" fill="#000" fill-opacity="0.85"/>
<ellipse cx="379.0" cy="532.5" rx="12.0" ry="11.5" fill="#000" fill-opacity="0.9"/>
<rect x="358" y="528" width="14" height="10" fill="#000" fill-opacity="0.35"/>
<path d="M421.0,520.0 H449.0 A11.0,11.0 0 0 1 449.0,542.0 H421.0 A11.0,11.0 0 0 1 421.0,520.0 Z" fill="#000" fill-opacity="0.3"/>
<ellipse cx="422.0" cy="532.0" rx="11.0" ry="14.0" fill="#000" fill-opacity="0.4"/>
<ellipse cx="452.0" cy="533.0" rx="11.0" ry="13.0" fill="#000" fill-opacity="0.38"/>
<path d="M491.5,525.5 H528.5 A7.5,7.5 0 0 1 528.5,540.5 H491.5 A7.5,7.5 0 0 1 491.5,525.5 Z" fill="#000" fill-opacity="0.28"/>
<path d="M967.0,505.0 H1017.0 A7.0,7.0 0 0 1 1017.0,519.0 H967.0 A7.0,7.0 0 0 1 967.0,505.0 Z" fill="#000" fill-opacity="0.65"/>
<path d="M971.0,527.0 H1014.0 A11.0,11.0 0 0 1 1014.0,549.0 H971.0 A11.0,11.0 0 0 1 971.0,527.0 Z" fill="#000" fill-opacity="0.7"/>
</g>
<g filter="url(#b0_6)">
<ellipse cx="258.75" cy="562.0" rx="2.25" ry="4.0" fill="#000" fill-opacity="1"/>
</g>
</g>
<rect x="183.95" y="492.65" width="854.5" height="85.70000000000005" fill="none" stroke="#000" stroke-width="4.5" stroke-linejoin="round"/>
<rect x="185.45" y="494.75" width="358.90000000000003" height="78.60000000000002" fill="none" stroke="#fd0202" stroke-width="4.9"/>
<clipPath id="cp5"><rect x="185.7" y="595.3" width="849.8" height="82.5"/></clipPath>
<g clip-path="url(#cp5)">
<rect x="185.7" y="595.3" width="849.8" height="82.5" fill="#efefef"/>
<g filter="url(#bg6)">
<rect x="193" y="590" width="49" height="94" fill="#000" fill-opacity="0.24"/>
<rect x="262" y="590" width="60" height="94" fill="#000" fill-opacity="0.08"/>
<rect x="564" y="590" width="62" height="94" fill="#000" fill-opacity="0.1"/>
<rect x="340" y="590" width="60" height="94" fill="#000" fill-opacity="0.04"/>
<path d="M1010,680 L1036,650 L1036,680 Z" fill="#000" fill-opacity="0.55"/>
<ellipse cx="919.0" cy="620.0" rx="26.0" ry="16.0" fill="#000" fill-opacity="0.2"/>
<ellipse cx="992.5" cy="627.5" rx="17.5" ry="12.5" fill="#000" fill-opacity="0.3"/>
</g>
<g filter="url(#b1_8)">
<path d="M841.3,678 L852.2,656.7 L869.6,645.9 L887,638.3 L895.7,630.7 L892.4,620.9 L897.8,622 L904.3,630.7 L921.7,631.7 L940,633 L908.7,650.2 L892.4,663.3 L879.3,678 Z" fill="#000" fill-opacity="0.98"/>
<path d="M941.3,594 L1011.4,594 L1008.7,606.7 L1002.2,614.3 L995.7,617.6 L984.8,620.9 L976,624.1 L984.8,628.5 L1001,628.5 L1003.3,632.8 L994.6,636.1 L982.6,632.8 L969.6,635 L952.2,645.9 L935.9,655.7 L928.3,658.9 L933.7,645.9 L941.3,633.9 L946.7,617.6 L943.5,606.7 Z" fill="#000" fill-opacity="0.98"/>
<ellipse cx="904.5" cy="612.0" rx="5.5" ry="6.0" fill="#000" fill-opacity="0.5"/>
</g>
<g filter="url(#b0_5)">
<ellipse cx="330.5" cy="627.0" rx="1.5" ry="3.0" fill="#000" fill-opacity="0.9"/>
<ellipse cx="743.25" cy="661.0" rx="1.25" ry="2.0" fill="#000" fill-opacity="0.7"/>
</g>
</g>
<rect x="183.95" y="593.55" width="853.3" height="86.0" fill="none" stroke="#000" stroke-width="4.5" stroke-linejoin="round"/>
<clipPath id="cp6"><rect x="185.7" y="697.3" width="850.0999999999999" height="82.60000000000002"/></clipPath>
<g clip-path="url(#cp6)">
<rect x="185.7" y="697.3" width="850.0999999999999" height="82.60000000000002" fill="#f0f0f0"/>
<rect x="626" y="697.3" width="414" height="82.60000000000002" fill="#f6f6f6"/>
<g filter="url(#b2_4)">
<path d="M205.5,732.0 H237.5 A7.5,7.5 0 0 1 237.5,747.0 H205.5 A7.5,7.5 0 0 1 205.5,732.0 Z" fill="#000" fill-opacity="0.97"/>
<ellipse cx="208.0" cy="739.5" rx="11.0" ry="9.5" fill="#000" fill-opacity="0.8"/>
<ellipse cx="235.0" cy="739.5" rx="11.0" ry="9.5" fill="#000" fill-opacity="0.8"/>
<path d="M275.0,732.5 H310.0 A6.0,6.0 0 0 1 310.0,744.5 H275.0 A6.0,6.0 0 0 1 275.0,732.5 Z" fill="#000" fill-opacity="0.62"/>
<ellipse cx="279.5" cy="738.5" rx="12.5" ry="8.5" fill="#000" fill-opacity="0.88"/>
<ellipse cx="308.5" cy="738.5" rx="9.5" ry="7.5" fill="#000" fill-opacity="0.35"/>
<path d="M351.5,730.0 H379.5 A7.5,7.5 0 0 1 379.5,745.0 H351.5 A7.5,7.5 0 0 1 351.5,730.0 Z" fill="#000" fill-opacity="0.97"/>
<ellipse cx="353.5" cy="737.5" rx="10.5" ry="8.5" fill="#000" fill-opacity="0.7"/>
<ellipse cx="377.0" cy="737.5" rx="11.0" ry="9.5" fill="#000" fill-opacity="0.8"/>
<path d="M420.5,730.5 H451.5 A6.5,6.5 0 0 1 451.5,743.5 H420.5 A6.5,6.5 0 0 1 420.5,730.5 Z" fill="#000" fill-opacity="0.9"/>
<ellipse cx="423.5" cy="737.0" rx="10.5" ry="8.0" fill="#000" fill-opacity="0.6"/>
<ellipse cx="448.5" cy="737.0" rx="10.5" ry="8.0" fill="#000" fill-opacity="0.6"/>
<path d="M493.0,733.0 H528.0 A6.0,6.0 0 0 1 528.0,745.0 H493.0 A6.0,6.0 0 0 1 493.0,733.0 Z" fill="#000" fill-opacity="0.5"/>
<ellipse cx="497.0" cy="739.5" rx="11.0" ry="7.5" fill="#000" fill-opacity="0.4"/>
<ellipse cx="524.5" cy="739.5" rx="10.5" ry="7.5" fill="#000" fill-opacity="0.35"/>
<path d="M571.5,734.5 H601.5 A7.5,7.5 0 0 1 601.5,749.5 H571.5 A7.5,7.5 0 0 1 571.5,734.5 Z" fill="#000" fill-opacity="0.98"/>
<ellipse cx="574.5" cy="741.5" rx="11.5" ry="8.5" fill="#000" fill-opacity="0.8"/>
<ellipse cx="599.0" cy="743.5" rx="11.0" ry="8.5" fill="#000" fill-opacity="0.8"/>
<path d="M639.0,734.0 H675.0 A6.0,6.0 0 0 1 675.0,746.0 H639.0 A6.0,6.0 0 0 1 639.0,734.0 Z" fill="#000" fill-opacity="0.93"/>
<ellipse cx="643.5" cy="740.0" rx="11.5" ry="8.0" fill="#000" fill-opacity="0.6"/>
<path d="M717.0,729.5 H756.0 A8.0,8.0 0 0 1 756.0,745.5 H717.0 A8.0,8.0 0 0 1 717.0,729.5 Z" fill="#000" fill-opacity="0.98"/>
<path d="M792.0,732.0 H845.0 A4.0,4.0 0 0 1 845.0,740.0 H792.0 A4.0,4.0 0 0 1 792.0,732.0 Z" fill="#000" fill-opacity="0.5"/>
<ellipse cx="801.0" cy="736.0" rx="14.0" ry="6.0" fill="#000" fill-opacity="0.5"/>
<path d="M878.5,730.5 H923.5 A6.5,6.5 0 0 1 923.5,743.5 H878.5 A6.5,6.5 0 0 1 878.5,730.5 Z" fill="#000" fill-opacity="0.95"/>
<ellipse cx="885.5" cy="736.5" rx="14.5" ry="7.5" fill="#000" fill-opacity="0.5"/>
<ellipse cx="183.5" cy="739.5" rx="6.5" ry="8.5" fill="#000" fill-opacity="1"/>
</g>
<g filter="url(#b2)">
<path d="M950,743 C950,732 965,729 985,729 C1005,729 1024,731 1024,743.5 C1024,755 1010,758.5 988,758.5 C966,758.5 950,754 950,743 Z" fill="#000" fill-opacity="1"/>
</g>
</g>
<rect x="183.95" y="695.55" width="853.5999999999999" height="86.10000000000002" fill="none" stroke="#000" stroke-width="4.5" stroke-linejoin="round"/>
<clipPath id="cp7"><rect x="1305.7" y="183.1" width="850.9999999999998" height="82.79999999999998"/></clipPath>
<g clip-path="url(#cp7)">
<rect x="1305.7" y="183.1" width="850.9999999999998" height="82.79999999999998" fill="#e6e6e6"/>
<g filter="url(#b18)">
<ellipse cx="2095.0" cy="225.0" rx="115.0" ry="60.0" fill="#000" fill-opacity="0.06"/>
</g>
<g filter="url(#b7)">
<ellipse cx="2110.0" cy="224.0" rx="55.0" ry="38.0" fill="#000" fill-opacity="0.16"/>
<rect x="2085" y="180" width="50" height="92" fill="#000" fill-opacity="0.08"/>
<ellipse cx="2110.0" cy="224.0" rx="45.0" ry="28.0" fill="#000" fill-opacity="0.14"/>
</g>
<g filter="url(#b4)">
<path d="M1319.0,217.0 H1357.0 A4.0,4.0 0 0 1 1357.0,225.0 H1319.0 A4.0,4.0 0 0 1 1319.0,217.0 Z" fill="#000" fill-opacity="0.08"/>
<path d="M1501.5,215.5 H1543.5 A3.5,3.5 0 0 1 1543.5,222.5 H1501.5 A3.5,3.5 0 0 1 1501.5,215.5 Z" fill="#000" fill-opacity="0.05"/>
<path d="M1629.5,217.5 H1674.5 A4.5,4.5 0 0 1 1674.5,226.5 H1629.5 A4.5,4.5 0 0 1 1629.5,217.5 Z" fill="#000" fill-opacity="0.17"/>
<path d="M1871.5,218.5 H1903.5 A3.5,3.5 0 0 1 1903.5,225.5 H1871.5 A3.5,3.5 0 0 1 1871.5,218.5 Z" fill="#000" fill-opacity="0.06"/>
</g>
<g filter="url(#b3_2)">
<path d="M1936.0,216.5 H1984.0 A4.0,4.0 0 0 1 1984.0,224.5 H1936.0 A4.0,4.0 0 0 1 1936.0,216.5 Z" fill="#000" fill-opacity="0.24"/>
<path d="M2004.5,217.5 H2071.5 A4.5,4.5 0 0 1 2071.5,226.5 H2004.5 A4.5,4.5 0 0 1 2004.5,217.5 Z" fill="#000" fill-opacity="0.42"/>
</g>
<g filter="url(#b1_6)">
<path d="M2069,224 C2072,210 2085,204 2105,204 C2130,204 2148,212 2149,226 C2150,238 2138,243 2112,243 C2085,243 2068,238 2069,224 Z" fill="#000" fill-opacity="1"/>
</g>
</g>
<rect x="1303.95" y="181.35" width="854.4999999999998" height="86.29999999999998" fill="none" stroke="#000" stroke-width="4.5" stroke-linejoin="round"/>
<clipPath id="cp8"><rect x="1308.4" y="286.6" width="850.4000000000001" height="82.5"/></clipPath>
<g clip-path="url(#cp8)">
<rect x="1308.4" y="286.6" width="850.4000000000001" height="82.5" fill="#f4f4f4"/>
<g filter="url(#b4_5)">
<rect x="1326" y="288" width="14.799999999999955" height="54" fill="#000" fill-opacity="0.21"/>
<rect x="1348.2" y="288" width="14.799999999999955" height="54" fill="#000" fill-opacity="0.21"/>
<rect x="1340.8" y="288" width="7.400000000000091" height="50" fill="#000" fill-opacity="0.105"/>
<rect x="1397" y="288" width="16.0" height="48" fill="#000" fill-opacity="0.06"/>
<rect x="1421.0" y="288" width="16.0" height="48" fill="#000" fill-opacity="0.06"/>
<rect x="1413.0" y="288" width="8.0" height="44" fill="#000" fill-opacity="0.03"/>
<rect x="1470" y="288" width="19.200000000000045" height="50" fill="#000" fill-opacity="0.08"/>
<rect x="1498.8" y="288" width="19.200000000000045" height="50" fill="#000" fill-opacity="0.08"/>
<rect x="1489.2" y="288" width="9.599999999999909" height="46" fill="#000" fill-opacity="0.04"/>
<rect x="1546" y="288" width="18.40000000000009" height="50" fill="#000" fill-opacity="0.08"/>
<rect x="1573.6" y="288" width="18.40000000000009" height="50" fill="#000" fill-opacity="0.08"/>
<rect x="1564.4" y="288" width="9.199999999999818" height="46" fill="#000" fill-opacity="0.04"/>
<rect x="1621" y="288" width="20.799999999999955" height="50" fill="#000" fill-opacity="0.1"/>
<rect x="1652.2" y="288" width="20.799999999999955" height="50" fill="#000" fill-opacity="0.1"/>
<rect x="1641.8" y="288" width="10.400000000000091" height="46" fill="#000" fill-opacity="0.05"/>
<rect x="1701" y="288" width="19.200000000000045" height="55" fill="#000" fill-opacity="0.07"/>
<rect x="1729.8" y="288" width="19.200000000000045" height="55" fill="#000" fill-opacity="0.07"/>
<rect x="1720.2" y="288" width="9.599999999999909" height="51" fill="#000" fill-opacity="0.035"/>
<rect x="1780" y="288" width="44" height="27" fill="#000" fill-opacity="0.07"/>
<rect x="1858" y="288" width="42" height="30" fill="#000" fill-opacity="0.13"/>
<rect x="1932" y="288" width="44" height="24" fill="#000" fill-opacity="0.04"/>
</g>
<g filter="url(#b4_6)">
<ellipse cx="1333.9" cy="295.0" rx="9.899999999999977" ry="9.0" fill="#000" fill-opacity="0.42"/>
<ellipse cx="1355.1" cy="295.0" rx="9.899999999999977" ry="9.0" fill="#000" fill-opacity="0.42"/>
<ellipse cx="1334.9" cy="332.0" rx="10.899999999999977" ry="7.0" fill="#000" fill-opacity="0.42"/>
<ellipse cx="1354.1" cy="332.0" rx="10.899999999999977" ry="7.0" fill="#000" fill-opacity="0.42"/>
<rect x="1337.84" y="328" width="13.320000000000164" height="8" fill="#000" fill-opacity="0.21"/>
<ellipse cx="1405.5" cy="296.0" rx="10.5" ry="9.0" fill="#000" fill-opacity="0.12"/>
<ellipse cx="1428.5" cy="296.0" rx="10.5" ry="9.0" fill="#000" fill-opacity="0.12"/>
<ellipse cx="1406.5" cy="326.0" rx="11.5" ry="7.0" fill="#000" fill-opacity="0.24"/>
<ellipse cx="1427.5" cy="326.0" rx="11.5" ry="7.0" fill="#000" fill-opacity="0.24"/>
<rect x="1409.8" y="322" width="14.400000000000091" height="8" fill="#000" fill-opacity="0.12"/>
<ellipse cx="1480.1" cy="296.0" rx="12.100000000000023" ry="9.0" fill="#000" fill-opacity="0.16"/>
<ellipse cx="1507.9" cy="296.0" rx="12.100000000000023" ry="9.0" fill="#000" fill-opacity="0.16"/>
<ellipse cx="1481.1" cy="328.0" rx="13.100000000000023" ry="7.0" fill="#000" fill-opacity="0.27"/>
<ellipse cx="1506.9" cy="328.0" rx="13.100000000000023" ry="7.0" fill="#000" fill-opacity="0.27"/>
<rect x="1485.36" y="324" width="17.2800000000002" height="8" fill="#000" fill-opacity="0.135"/>
<ellipse cx="1555.7" cy="296.0" rx="11.700000000000045" ry="9.0" fill="#000" fill-opacity="0.16"/>
<ellipse cx="1582.3" cy="296.0" rx="11.700000000000045" ry="9.0" fill="#000" fill-opacity="0.16"/>
<ellipse cx="1556.7" cy="328.0" rx="12.700000000000045" ry="7.0" fill="#000" fill-opacity="0.32"/>
<ellipse cx="1581.3" cy="328.0" rx="12.700000000000045" ry="7.0" fill="#000" fill-opacity="0.32"/>
<rect x="1560.72" y="324" width="16.559999999999945" height="8" fill="#000" fill-opacity="0.16"/>
<ellipse cx="1631.9" cy="296.0" rx="12.899999999999977" ry="9.0" fill="#000" fill-opacity="0.2"/>
<ellipse cx="1662.1" cy="296.0" rx="12.899999999999977" ry="9.0" fill="#000" fill-opacity="0.2"/>
<ellipse cx="1632.9" cy="328.0" rx="13.899999999999977" ry="7.0" fill="#000" fill-opacity="0.24"/>
<ellipse cx="1661.1" cy="328.0" rx="13.899999999999977" ry="7.0" fill="#000" fill-opacity="0.24"/>
<rect x="1637.64" y="324" width="18.7199999999998" height="8" fill="#000" fill-opacity="0.12"/>
<ellipse cx="1711.1" cy="296.0" rx="12.100000000000023" ry="9.0" fill="#000" fill-opacity="0.14"/>
<ellipse cx="1738.9" cy="296.0" rx="12.100000000000023" ry="9.0" fill="#000" fill-opacity="0.14"/>
<ellipse cx="1712.1" cy="333.0" rx="13.100000000000023" ry="7.0" fill="#000" fill-opacity="0.24"/>
<ellipse cx="1737.9" cy="333.0" rx="13.100000000000023" ry="7.0" fill="#000" fill-opacity="0.24"/>
<rect x="1716.36" y="329" width="17.2800000000002" height="8" fill="#000" fill-opacity="0.12"/>
<path d="M1783.0,323.0 H1821.0 A6.0,6.0 0 0 1 1821.0,335.0 H1783.0 A6.0,6.0 0 0 1 1783.0,323.0 Z" fill="#000" fill-opacity="0.32"/>
<path d="M1862.0,320.0 H1896.0 A7.0,7.0 0 0 1 1896.0,334.0 H1862.0 A7.0,7.0 0 0 1 1862.0,320.0 Z" fill="#000" fill-opacity="0.52"/>
<path d="M1933.5,322.0 H1974.5 A5.5,5.5 0 0 1 1974.5,333.0 H1933.5 A5.5,5.5 0 0 1 1933.5,322.0 Z" fill="#000" fill-opacity="0.27"/>
<path d="M2008.5,324.0 H2055.5 A4.5,4.5 0 0 1 2055.5,333.0 H2008.5 A4.5,4.5 0 0 1 2008.5,324.0 Z" fill="#000" fill-opacity="0.16"/>
</g>
<g filter="url(#b2_3)">
<ellipse cx="2114.5" cy="337.5" rx="32.5" ry="17.5" fill="#000" fill-opacity="1"/>
<ellipse cx="2114.5" cy="337.5" rx="28.5" ry="14.5" fill="#000" fill-opacity="1"/>
<path d="M2092.0,290.0 H2136.0 A4.0,4.0 0 0 1 2136.0,298.0 H2092.0 A4.0,4.0 0 0 1 2092.0,290.0 Z" fill="#000" fill-opacity="0.4"/>
<path d="M2090.0,299.5 H2138.0 A4.0,4.0 0 0 1 2138.0,307.5 H2090.0 A4.0,4.0 0 0 1 2090.0,299.5 Z" fill="#000" fill-opacity="0.55"/>
<path d="M2091.5,309.5 H2136.5 A3.5,3.5 0 0 1 2136.5,316.5 H2091.5 A3.5,3.5 0 0 1 2091.5,309.5 Z" fill="#000" fill-opacity="0.4"/>
<rect x="2090" y="288" width="48" height="84" fill="#000" fill-opacity="0.25"/>
<ellipse cx="2115.0" cy="362.0" rx="23.0" ry="12.0" fill="#000" fill-opacity="0.3"/>
</g>
</g>
<rect x="1306.65" y="284.85" width="853.9000000000001" height="86.0" fill="none" stroke="#000" stroke-width="4.5" stroke-linejoin="round"/>
<clipPath id="cp9"><rect x="1308.4" y="388.2" width="850.4000000000001" height="83.90000000000003"/></clipPath>
<g clip-path="url(#cp9)">
<rect x="1308.4" y="388.2" width="850.4000000000001" height="83.90000000000003" fill="#f3f3f3"/>
<g filter="url(#b5)">
<rect x="1325.8" y="386" width="16.327999999999975" height="22" fill="#000" fill-opacity="0.45"/>
<rect x="1353.0720000000001" y="386" width="16.327999999999975" height="22" fill="#000" fill-opacity="0.45"/>
<rect x="1342.128" y="386" width="10.944000000000187" height="18" fill="#000" fill-opacity="0.203"/>
<rect x="1326.8" y="442" width="15.327999999999975" height="36" fill="#000" fill-opacity="0.55"/>
<rect x="1353.0720000000001" y="442" width="15.327999999999975" height="36" fill="#000" fill-opacity="0.55"/>
<rect x="1342.128" y="446" width="10.944000000000187" height="32" fill="#000" fill-opacity="0.303"/>
<rect x="1398.8" y="386" width="16.365999999999985" height="36" fill="#000" fill-opacity="0.3"/>
<rect x="1426.134" y="386" width="16.365999999999985" height="36" fill="#000" fill-opacity="0.3"/>
<rect x="1415.166" y="386" width="10.968000000000075" height="32" fill="#000" fill-opacity="0.135"/>
<rect x="1399.8" y="442" width="15.365999999999985" height="36" fill="#000" fill-opacity="0.42"/>
<rect x="1426.134" y="442" width="15.365999999999985" height="36" fill="#000" fill-opacity="0.42"/>
<rect x="1415.166" y="446" width="10.968000000000075" height="32" fill="#000" fill-opacity="0.231"/>
<rect x="1470.6" y="386" width="18.798000000000002" height="34" fill="#000" fill-opacity="0.25"/>
<rect x="1501.902" y="386" width="18.798000000000002" height="34" fill="#000" fill-opacity="0.25"/>
<rect x="1489.398" y="386" width="12.504000000000133" height="30" fill="#000" fill-opacity="0.113"/>
<rect x="1471.6" y="436" width="17.798000000000002" height="42" fill="#000" fill-opacity="0.35"/>
<rect x="1501.902" y="436" width="17.798000000000002" height="42" fill="#000" fill-opacity="0.35"/>
<rect x="1489.398" y="440" width="12.504000000000133" height="38" fill="#000" fill-opacity="0.193"/>
<rect x="1543.6" y="386" width="19.82400000000007" height="32" fill="#000" fill-opacity="0.3"/>
<rect x="1576.576" y="386" width="19.82400000000007" height="32" fill="#000" fill-opacity="0.3"/>
<rect x="1563.424" y="386" width="13.152000000000044" height="28" fill="#000" fill-opacity="0.135"/>
<rect x="1544.6" y="440" width="18.82400000000007" height="38" fill="#000" fill-opacity="0.42"/>
<rect x="1576.576" y="440" width="18.82400000000007" height="38" fill="#000" fill-opacity="0.42"/>
<rect x="1563.424" y="444" width="13.152000000000044" height="34" fill="#000" fill-opacity="0.231"/>
<rect x="1620" y="386" width="19.1400000000001" height="36" fill="#000" fill-opacity="0.25"/>
<rect x="1651.86" y="386" width="19.1400000000001" height="36" fill="#000" fill-opacity="0.25"/>
<rect x="1639.14" y="386" width="12.7199999999998" height="32" fill="#000" fill-opacity="0.113"/>
<rect x="1621" y="436" width="18.1400000000001" height="42" fill="#000" fill-opacity="0.32"/>
<rect x="1651.86" y="436" width="18.1400000000001" height="42" fill="#000" fill-opacity="0.32"/>
<rect x="1639.14" y="440" width="12.7199999999998" height="38" fill="#000" fill-opacity="0.176"/>
<rect x="1697" y="386" width="21.420000000000073" height="26" fill="#000" fill-opacity="0.4"/>
<rect x="1732.58" y="386" width="21.420000000000073" height="26" fill="#000" fill-opacity="0.4"/>
<rect x="1718.42" y="386" width="14.159999999999854" height="22" fill="#000" fill-opacity="0.18"/>
<rect x="1698" y="450" width="20.420000000000073" height="28" fill="#000" fill-opacity="0.5"/>
<rect x="1732.58" y="450" width="20.420000000000073" height="28" fill="#000" fill-opacity="0.5"/>
<rect x="1718.42" y="454" width="14.159999999999854" height="24" fill="#000" fill-opacity="0.275"/>
<ellipse cx="1802.0" cy="432.0" rx="26.0" ry="36.0" fill="#000" fill-opacity="0.2"/>
<ellipse cx="1879.0" cy="431.0" rx="25.0" ry="37.0" fill="#000" fill-opacity="0.3"/>
<ellipse cx="1953.0" cy="431.0" rx="24.0" ry="33.0" fill="#000" fill-opacity="0.2"/>
<ellipse cx="2029.0" cy="427.0" rx="26.0" ry="15.0" fill="#000" fill-opacity="0.08"/>
<rect x="2090" y="389" width="50" height="83" fill="#000" fill-opacity="0.14"/>
</g>
<g filter="url(#b4)">
<ellipse cx="1333.964" cy="425.0" rx="10.163999999999987" ry="25.0" fill="#000" fill-opacity="0.795"/>
<ellipse cx="1361.236" cy="425.0" rx="10.163999999999987" ry="25.0" fill="#000" fill-opacity="0.795"/>
<ellipse cx="1347.6" cy="427.0" rx="18.46799999999996" ry="19.0" fill="#000" fill-opacity="0.921"/>
<ellipse cx="1406.983" cy="432.0" rx="10.182999999999993" ry="18.0" fill="#000" fill-opacity="0.59"/>
<ellipse cx="1434.317" cy="432.0" rx="10.182999999999993" ry="18.0" fill="#000" fill-opacity="0.574"/>
<ellipse cx="1420.65" cy="433.44" rx="18.508500000000026" ry="13.680000000000007" fill="#000" fill-opacity="0.57"/>
<ellipse cx="1479.9989999999998" cy="428.0" rx="11.399000000000001" ry="16.0" fill="#000" fill-opacity="0.541"/>
<ellipse cx="1511.301" cy="428.0" rx="11.399000000000001" ry="16.0" fill="#000" fill-opacity="0.541"/>
<ellipse cx="1495.65" cy="429.28" rx="21.100500000000125" ry="12.159999999999997" fill="#000" fill-opacity="0.589"/>
<ellipse cx="1553.512" cy="429.0" rx="11.912000000000035" ry="19.0" fill="#000" fill-opacity="0.623"/>
<ellipse cx="1586.488" cy="429.0" rx="11.912000000000035" ry="19.0" fill="#000" fill-opacity="0.607"/>
<ellipse cx="1570.0" cy="430.52" rx="22.19399999999996" ry="14.439999999999998" fill="#000" fill-opacity="0.627"/>
<ellipse cx="1629.5700000000002" cy="429.0" rx="11.57000000000005" ry="15.0" fill="#000" fill-opacity="0.451"/>
<ellipse cx="1661.4299999999998" cy="429.0" rx="11.57000000000005" ry="15.0" fill="#000" fill-opacity="0.476"/>
<ellipse cx="1645.5" cy="430.20000000000005" rx="21.464999999999918" ry="11.400000000000006" fill="#000" fill-opacity="0.399"/>
<ellipse cx="1707.71" cy="431.0" rx="12.710000000000036" ry="27.0" fill="#000" fill-opacity="0.705"/>
<ellipse cx="1743.29" cy="431.0" rx="12.710000000000036" ry="27.0" fill="#000" fill-opacity="0.738"/>
<ellipse cx="1725.5" cy="433.15999999999997" rx="23.894999999999982" ry="20.52000000000001" fill="#000" fill-opacity="0.741"/>
<ellipse cx="1347.5" cy="425.0" rx="19.5" ry="27.0" fill="#000" fill-opacity="0.9"/>
<path d="M1786.0,422.0 H1818.0 A12.0,12.0 0 0 1 1818.0,446.0 H1786.0 A12.0,12.0 0 0 1 1786.0,422.0 Z" fill="#000" fill-opacity="0.68"/>
<path d="M1867.0,415.0 H1891.0 A15.0,15.0 0 0 1 1891.0,445.0 H1867.0 A15.0,15.0 0 0 1 1867.0,415.0 Z" fill="#000" fill-opacity="0.82"/>
<path d="M1939.0,419.0 H1967.0 A12.0,12.0 0 0 1 1967.0,443.0 H1939.0 A12.0,12.0 0 0 1 1939.0,419.0 Z" fill="#000" fill-opacity="0.76"/>
<path d="M2095.0,381.0 H2135.0 A7.0,7.0 0 0 1 2135.0,395.0 H2095.0 A7.0,7.0 0 0 1 2095.0,381.0 Z" fill="#000" fill-opacity="0.65"/>
</g>
</g>
<rect x="1306.65" y="386.45" width="853.9000000000001" height="87.40000000000003" fill="none" stroke="#000" stroke-width="4.5" stroke-linejoin="round"/>
<rect x="1310.45" y="390.45" width="676.0999999999999" height="79.10000000000002" fill="none" stroke="#fd0202" stroke-width="4.9"/>
<clipPath id="cp10"><rect x="1308.4" y="492.3" width="849.7999999999997" height="83.09999999999997"/></clipPath>
<g clip-path="url(#cp10)">
<rect x="1308.4" y="492.3" width="849.7999999999997" height="83.09999999999997" fill="#f3f3f3"/>
<g filter="url(#bg4)">
<rect x="1324" y="492" width="43" height="86" fill="#000" fill-opacity="0.48"/>
<rect x="1391" y="492" width="50" height="86" fill="#000" fill-opacity="0.42"/>
<rect x="1466" y="492" width="54" height="86" fill="#000" fill-opacity="0.28"/>
<rect x="1544" y="492" width="54" height="86" fill="#000" fill-opacity="0.38"/>
<rect x="1619" y="492" width="56" height="86" fill="#000" fill-opacity="0.18"/>
<rect x="1699" y="492" width="60" height="86" fill="#000" fill-opacity="0.24"/>
<rect x="1778" y="492" width="53" height="86" fill="#000" fill-opacity="0.14"/>
<rect x="1854" y="492" width="52" height="86" fill="#000" fill-opacity="0.17"/>
<rect x="1929" y="492" width="50" height="86" fill="#000" fill-opacity="0.14"/>
<rect x="2006" y="492" width="58" height="86" fill="#000" fill-opacity="0.4"/>
<ellipse cx="2034.0" cy="535.0" rx="26.0" ry="35.0" fill="#000" fill-opacity="0.12"/>
<rect x="2084" y="488" width="58" height="94" fill="#000" fill-opacity="0.85"/>
<rect x="2138" y="488" width="24" height="94" fill="#000" fill-opacity="0.4"/>
<rect x="2070" y="500" width="14" height="78" fill="#000" fill-opacity="0.12"/>
</g>
<g filter="url(#b3)">
<path d="M1335.0,528.0 H1356.0 A12.0,12.0 0 0 1 1356.0,552.0 H1335.0 A12.0,12.0 0 0 1 1335.0,528.0 Z" fill="#000" fill-opacity="0.55"/>
<path d="M1400.0,526.0 H1432.0 A10.0,10.0 0 0 1 1432.0,546.0 H1400.0 A10.0,10.0 0 0 1 1400.0,526.0 Z" fill="#000" fill-opacity="0.8"/>
<path d="M1471.5,529.5 H1514.5 A6.5,6.5 0 0 1 1514.5,542.5 H1471.5 A6.5,6.5 0 0 1 1471.5,529.5 Z" fill="#000" fill-opacity="0.75"/>
<path d="M1552.0,527.0 H1590.0 A9.0,9.0 0 0 1 1590.0,545.0 H1552.0 A9.0,9.0 0 0 1 1552.0,527.0 Z" fill="#000" fill-opacity="0.75"/>
<path d="M1624.5,529.5 H1669.5 A6.5,6.5 0 0 1 1669.5,542.5 H1624.5 A6.5,6.5 0 0 1 1624.5,529.5 Z" fill="#000" fill-opacity="0.72"/>
<path d="M1706.0,530.0 H1752.0 A8.0,8.0 0 0 1 1752.0,546.0 H1706.0 A8.0,8.0 0 0 1 1706.0,530.0 Z" fill="#000" fill-opacity="0.8"/>
<path d="M1781.5,530.5 H1827.5 A4.5,4.5 0 0 1 1827.5,539.5 H1781.5 A4.5,4.5 0 0 1 1781.5,530.5 Z" fill="#000" fill-opacity="0.28"/>
<path d="M1857.5,528.5 H1902.5 A4.5,4.5 0 0 1 1902.5,537.5 H1857.5 A4.5,4.5 0 0 1 1857.5,528.5 Z" fill="#000" fill-opacity="0.28"/>
<path d="M1933.0,527.0 H1975.0 A5.0,5.0 0 0 1 1975.0,537.0 H1933.0 A5.0,5.0 0 0 1 1933.0,527.0 Z" fill="#000" fill-opacity="0.18"/>
<ellipse cx="2114.0" cy="518.0" rx="31.0" ry="40.0" fill="#000" fill-opacity="0.97"/>
<ellipse cx="2115.0" cy="555.0" rx="25.0" ry="35.0" fill="#000" fill-opacity="0.5"/>
</g>
<g filter="url(#b0_6)">
<ellipse cx="1821.0" cy="524.5" rx="2.0" ry="2.5" fill="#000" fill-opacity="0.9"/>
<ellipse cx="1381.75" cy="564.0" rx="0.75" ry="1.0" fill="#000" fill-opacity="0.7"/>
</g>
</g>
<rect x="1306.65" y="490.55" width="853.2999999999997" height="86.59999999999997" fill="none" stroke="#000" stroke-width="4.5" stroke-linejoin="round"/>
<rect x="1310.45" y="493.95" width="676.0999999999999" height="78.90000000000003" fill="none" stroke="#fd0202" stroke-width="4.9"/>
<clipPath id="cp11"><rect x="1308.4" y="595.3" width="849.7999999999997" height="82.70000000000005"/></clipPath>
<g clip-path="url(#cp11)">
<rect x="1308.4" y="595.3" width="849.7999999999997" height="82.70000000000005" fill="#f4f4f4"/>
<rect x="1304" y="595.3" width="456" height="82.70000000000005" fill="#efefef"/>
<g filter="url(#bg6)">
<ellipse cx="1362.5" cy="611.5" rx="22.5" ry="13.5" fill="#000" fill-opacity="0.1"/>
<rect x="1761" y="590" width="44" height="60" fill="#000" fill-opacity="0.2"/>
<ellipse cx="2035.0" cy="608.5" rx="45.0" ry="16.5" fill="#000" fill-opacity="0.08"/>
<rect x="1874" y="622" width="86" height="64" fill="#000" fill-opacity="0.3"/>
<ellipse cx="1917.0" cy="644.0" rx="51.0" ry="46.0" fill="#000" fill-opacity="0.3"/>
<ellipse cx="1420.0" cy="640.0" rx="20.0" ry="40.0" fill="#000" fill-opacity="0.1"/>
<ellipse cx="1367.5" cy="627.5" rx="12.5" ry="12.5" fill="#000" fill-opacity="0.25"/>
<ellipse cx="1351.0" cy="641.0" rx="11.0" ry="5.0" fill="#000" fill-opacity="0.18"/>
<ellipse cx="1319.5" cy="649.0" rx="10.5" ry="9.0" fill="#000" fill-opacity="0.2"/>
</g>
<g filter="url(#b2)">
<path d="M1421.2,594 L1435.9,594 L1434.2,617.6 L1429.3,639.3 L1424.5,651 L1420.1,639.3 L1419,617.6 Z" fill="#000" fill-opacity="0.98"/>
<path d="M1423,648 L1426,648 L1428,680 L1424,680 Z" fill="#000" fill-opacity="0.3"/>
<path d="M1384.8,647 L1392.4,644.8 L1401.1,649.1 L1408.7,658.9 L1418.5,680 L1403,680 L1394.6,667.6 L1387,656.7 Z" fill="#000" fill-opacity="0.98"/>
<ellipse cx="1372.0" cy="629.0" rx="7.0" ry="8.0" fill="#000" fill-opacity="0.65"/>
<ellipse cx="1318.5" cy="648.5" rx="5.5" ry="5.5" fill="#000" fill-opacity="0.4"/>
<path d="M1871,605 L1877,604 L1894,633 L1890,638 L1880,625 Z" fill="#000" fill-opacity="0.95"/>
<path d="M1935,598 L1941,597 L1958,625 L1963,648 L1958,650 L1948,628 Z" fill="#000" fill-opacity="0.92"/>
<path d="M2079,594 L2132,594 L2133,606 L2120,612 L2128,618 L2110,624 L2090,620 L2080,608 Z" fill="#000" fill-opacity="0.98"/>
<ellipse cx="2147.25" cy="616.5" rx="6.75" ry="10.0" fill="#000" fill-opacity="0.92"/>
</g>
</g>
<rect x="1306.65" y="593.55" width="853.2999999999997" height="86.20000000000005" fill="none" stroke="#000" stroke-width="4.5" stroke-linejoin="round"/>
<clipPath id="cp12"><rect x="1308.4" y="696.4" width="850.4000000000001" height="83.70000000000005"/></clipPath>
<g clip-path="url(#cp12)">
<rect x="1308.4" y="696.4" width="850.4000000000001" height="83.70000000000005" fill="#f1f1f1"/>
<rect x="1753" y="696.4" width="410" height="83.70000000000005" fill="#f7f7f7"/>
<g filter="url(#b2_4)">
<path d="M1322.0,734.5 H1352.0 A7.0,7.0 0 0 1 1352.0,748.5 H1322.0 A7.0,7.0 0 0 1 1322.0,734.5 Z" fill="#000" fill-opacity="0.97"/>
<path d="M1390.0,731.0 H1422.0 A6.0,6.0 0 0 1 1422.0,743.0 H1390.0 A6.0,6.0 0 0 1 1390.0,731.0 Z" fill="#000" fill-opacity="0.72"/>
<ellipse cx="1393.5" cy="740.0" rx="9.5" ry="6.0" fill="#000" fill-opacity="0.3"/>
<path d="M1462.5,732.5 H1503.5 A6.5,6.5 0 0 1 1503.5,745.5 H1462.5 A6.5,6.5 0 0 1 1462.5,732.5 Z" fill="#000" fill-opacity="0.93"/>
<path d="M1537.5,732.0 H1576.5 A6.5,6.5 0 0 1 1576.5,745.0 H1537.5 A6.5,6.5 0 0 1 1537.5,732.0 Z" fill="#000" fill-opacity="0.93"/>
<path d="M1613.5,732.5 H1654.5 A6.5,6.5 0 0 1 1654.5,745.5 H1613.5 A6.5,6.5 0 0 1 1613.5,732.5 Z" fill="#000" fill-opacity="0.93"/>
<path d="M1693.0,735.0 H1737.0 A7.0,7.0 0 0 1 1737.0,749.0 H1693.0 A7.0,7.0 0 0 1 1693.0,735.0 Z" fill="#000" fill-opacity="0.97"/>
<path d="M1761.5,735.5 H1806.5 A4.5,4.5 0 0 1 1806.5,744.5 H1761.5 A4.5,4.5 0 0 1 1761.5,735.5 Z" fill="#000" fill-opacity="0.45"/>
<path d="M1843.5,731.5 H1882.5 A6.5,6.5 0 0 1 1882.5,744.5 H1843.5 A6.5,6.5 0 0 1 1843.5,731.5 Z" fill="#000" fill-opacity="0.92"/>
<path d="M1919.0,730.0 H1961.0 A6.0,6.0 0 0 1 1961.0,742.0 H1919.0 A6.0,6.0 0 0 1 1919.0,730.0 Z" fill="#000" fill-opacity="0.95"/>
<path d="M1996.0,729.5 H2046.0 A6.0,6.0 0 0 1 2046.0,741.5 H1996.0 A6.0,6.0 0 0 1 1996.0,729.5 Z" fill="#000" fill-opacity="0.95"/>
</g>
<g filter="url(#b2)">
<path d="M2066,740 C2066,729 2080,726 2102,726 C2124,726 2140,729 2140,741 C2140,751 2126,754 2104,754 C2082,754 2066,751 2066,740 Z" fill="#000" fill-opacity="1"/>
<rect x="2128" y="712" width="10" height="18" fill="#000" fill-opacity="0.3"/>
</g>
</g>
<rect x="1306.65" y="694.65" width="853.9000000000001" height="87.20000000000005" fill="none" stroke="#000" stroke-width="4.5" stroke-linejoin="round"/>
<text class="ss" x="2.7" y="1021.8" font-size="40.3" style="font-weight:bold;">B</text>
<text class="ss" x="434.2" y="1021.8" font-size="40.3" style="font-weight:bold;">C</text>
<text class="ss" x="1058.2" y="1021.8" font-size="40.3" style="font-weight:bold;">D</text>
<text class="ss" x="1703.2" y="1021.8" font-size="40.3" style="font-weight:bold;">E</text>
<path d="M135,1121.5 V1408.5" stroke="#000" stroke-width="2" fill="none"/>
<path d="M124,1408.5 H298.5" stroke="#000" stroke-width="2" fill="none"/>
<path d="M124,1122.5 H135" stroke="#000" stroke-width="2" fill="none"/>
<text class="sf" x="107.3" y="1133.1" font-size="32" text-anchor="end" style="" >1200</text>
<path d="M124,1217.5 H135" stroke="#000" stroke-width="2" fill="none"/>
<text class="sf" x="107.3" y="1228.1" font-size="32" text-anchor="end" style="" >800</text>
<path d="M124,1312.5 H135" stroke="#000" stroke-width="2" fill="none"/>
<text class="sf" x="107.3" y="1323.1" font-size="32" text-anchor="end" style="" >400</text>
<path d="M124,1408.5 H135" stroke="#000" stroke-width="2" fill="none"/>
<text class="sf" x="107.3" y="1419.1" font-size="32" text-anchor="end" style="" >0</text>
<path d="M135,1408.5 V1418 M298.5,1408.5 V1418" stroke="#000" stroke-width="2" fill="none"/>
<rect x="174.5" y="1241" width="39" height="167.5" fill="#000"/>
<rect x="220.6" y="1178.6" width="39.00000000000003" height="229.9000000000001" fill="#000"/>
<rect x="222.6" y="1180.6" width="35.00000000000003" height="227.9000000000001" fill="url(#hatch)"/>
<path d="M193.5,1193 V1289.5 M186.25,1193 H200.75 M186.25,1289.5 H200.75" stroke="#595959" stroke-width="1.8" fill="none"/>
<path d="M240,1125.7 V1233.7 M232.75,1125.7 H247.25 M232.75,1233.7 H247.25" stroke="#595959" stroke-width="1.8" fill="none"/>
<rect x="162.5" y="1416.5" width="104" height="5.6" fill="#000"/>
<text class="sf" x="217" y="1454" font-size="34" text-anchor="middle" style="" >Total Tax</text>
<text class="sf" x="217" y="1491" font-size="33" text-anchor="middle" style="" >Protein</text>
<text class="sf" x="213.5" y="1065" font-size="44" text-anchor="middle" style="font-weight:bold;" >Tax</text>
<rect x="178.0" y="1071.3" width="71" height="3.6" fill="#000"/>
<text class="sf" transform="translate(25,1268.5) rotate(-90)" font-size="32" text-anchor="middle" style="font-weight:bold;">Densitometry Counts</text>
<rect x="288.5" y="1069.5" width="18.6" height="18.6" fill="#000"/>
<text class="sf" x="314" y="1089" font-size="32" text-anchor="start" style="" >Control</text>
<rect x="288.5" y="1113.5" width="18.6" height="18.6" fill="#000"/>
<rect x="291.0" y="1116.0" width="13.600000000000001" height="13.600000000000001" fill="#000"/>
<path d="M291.1,1125.1 L299.1,1116.1 L304.5,1116.1 L304.5,1119.5 L295.5,1129.5 L291.1,1129.5 Z" fill="#fff"/>
<text class="sf" x="314" y="1132.5" font-size="32" text-anchor="start" style="" >IR</text>
<path d="M625.3,1140 V1413.3" stroke="#000" stroke-width="2" fill="none"/>
<path d="M613.3,1413.3 H1032.6" stroke="#000" stroke-width="2" fill="none"/>
<path d="M613.3,1141 H625.3" stroke="#000" stroke-width="2" fill="none"/>
<text class="sf" x="593" y="1152" font-size="32" text-anchor="end" style="" >4.0E+05</text>
<path d="M613.3,1277 H625.3" stroke="#000" stroke-width="2" fill="none"/>
<text class="sf" x="593" y="1288" font-size="32" text-anchor="end" style="" >2.0E+03</text>
<text class="sf" x="593" y="1424" font-size="32" text-anchor="end" style="" >1.0E+01</text>
<path d="M625.3,1413.3 V1423.3" stroke="#000" stroke-width="2" fill="none"/>
<path d="M662.3272727272727,1413.3 V1423.3" stroke="#000" stroke-width="2" fill="none"/>
<path d="M699.3545454545454,1413.3 V1423.3" stroke="#000" stroke-width="2" fill="none"/>
<path d="M736.3818181818181,1413.3 V1423.3" stroke="#000" stroke-width="2" fill="none"/>
<path d="M773.4090909090909,1413.3 V1423.3" stroke="#000" stroke-width="2" fill="none"/>
<path d="M810.4363636363636,1413.3 V1423.3" stroke="#000" stroke-width="2" fill="none"/>
<path d="M847.4636363636363,1413.3 V1423.3" stroke="#000" stroke-width="2" fill="none"/>
<path d="M884.4909090909091,1413.3 V1423.3" stroke="#000" stroke-width="2" fill="none"/>
<path d="M921.5181818181818,1413.3 V1423.3" stroke="#000" stroke-width="2" fill="none"/>
<path d="M958.5454545454545,1413.3 V1423.3" stroke="#000" stroke-width="2" fill="none"/>
<path d="M995.5727272727272,1413.3 V1423.3" stroke="#000" stroke-width="2" fill="none"/>
<path d="M1032.6,1413.3 V1423.3" stroke="#000" stroke-width="2" fill="none"/>
<rect x="631.5999999999999" y="1276.0" width="12" height="137.29999999999995" fill="#000"/>
<rect x="644.1999999999999" y="1356.0" width="12.0" height="57.299999999999955" fill="#000"/>
<rect x="646.8" y="1358.6" width="6.8" height="54.69999999999995" fill="url(#hatchS)"/>
<rect x="631.5999999999999" y="1421.8" width="23" height="4.6" fill="#000"/>
<path d="M637.5999999999999,1274.0 V1278.0 M630.5999999999999,1274.0 H644.5999999999999 M630.5999999999999,1278.0 H644.5999999999999" stroke="#595959" stroke-width="1.6" fill="none"/>
<path d="M650.1999999999999,1350.5 V1362.0 M643.1999999999999,1350.5 H657.1999999999999 M643.1999999999999,1362.0 H657.1999999999999" stroke="#595959" stroke-width="1.6" fill="none"/>
<text class="sf" transform="translate(655.0999999999999,1431.3) rotate(-90)" font-size="32" text-anchor="end" style="">6</text>
<rect x="668.6272727272726" y="1286.0" width="12" height="127.29999999999995" fill="#000"/>
<rect x="681.2272727272726" y="1351.0" width="12.0" height="62.299999999999955" fill="#000"/>
<rect x="683.8272727272727" y="1353.6" width="6.8" height="59.69999999999995" fill="url(#hatchS)"/>
<rect x="668.6272727272726" y="1421.8" width="23" height="4.6" fill="#000"/>
<path d="M674.6272727272726,1283.5 V1288.5 M667.6272727272726,1283.5 H681.6272727272726 M667.6272727272726,1288.5 H681.6272727272726" stroke="#595959" stroke-width="1.6" fill="none"/>
<path d="M687.2272727272726,1345.5 V1355.0 M680.2272727272726,1345.5 H694.2272727272726 M680.2272727272726,1355.0 H694.2272727272726" stroke="#595959" stroke-width="1.6" fill="none"/>
<text class="sf" transform="translate(692.1272727272726,1431.3) rotate(-90)" font-size="32" text-anchor="end" style="">7.2</text>
<rect x="705.6545454545453" y="1279.0" width="12" height="134.29999999999995" fill="#000"/>
<rect x="718.2545454545453" y="1355.0" width="12.0" height="58.299999999999955" fill="#000"/>
<rect x="720.8545454545454" y="1357.6" width="6.8" height="55.69999999999995" fill="url(#hatchS)"/>
<rect x="705.6545454545453" y="1421.8" width="23" height="4.6" fill="#000"/>
<path d="M711.6545454545453,1277.0 V1281.0 M704.6545454545453,1277.0 H718.6545454545453 M704.6545454545453,1281.0 H718.6545454545453" stroke="#595959" stroke-width="1.6" fill="none"/>
<path d="M724.2545454545453,1349.0 V1360.0 M717.2545454545453,1349.0 H731.2545454545453 M717.2545454545453,1360.0 H731.2545454545453" stroke="#595959" stroke-width="1.6" fill="none"/>
<text class="sf" transform="translate(729.1545454545453,1431.3) rotate(-90)" font-size="32" text-anchor="end" style="">8.4</text>
<rect x="742.681818181818" y="1287.0" width="12" height="126.29999999999995" fill="#000"/>
<rect x="755.281818181818" y="1352.5" width="12.0" height="60.799999999999955" fill="#000"/>
<rect x="757.8818181818181" y="1355.1" width="6.8" height="58.19999999999995" fill="url(#hatchS)"/>
<rect x="742.681818181818" y="1421.8" width="23" height="4.6" fill="#000"/>
<path d="M748.681818181818,1285.0 V1289.5 M741.681818181818,1285.0 H755.681818181818 M741.681818181818,1289.5 H755.681818181818" stroke="#595959" stroke-width="1.6" fill="none"/>
<path d="M761.281818181818,1348.0 V1357.0 M754.281818181818,1348.0 H768.281818181818 M754.281818181818,1357.0 H768.281818181818" stroke="#595959" stroke-width="1.6" fill="none"/>
<text class="sf" transform="translate(766.181818181818,1431.3) rotate(-90)" font-size="32" text-anchor="end" style="">9.6</text>
<rect x="779.7090909090908" y="1270.5" width="12" height="142.79999999999995" fill="#000"/>
<rect x="792.3090909090909" y="1333.0" width="12.0" height="80.29999999999995" fill="#000"/>
<rect x="794.9090909090909" y="1335.6" width="6.8" height="77.69999999999996" fill="url(#hatchS)"/>
<rect x="779.7090909090908" y="1421.8" width="23" height="4.6" fill="#000"/>
<path d="M785.7090909090908,1268.5 V1272.5 M778.7090909090908,1268.5 H792.7090909090908 M778.7090909090908,1272.5 H792.7090909090908" stroke="#595959" stroke-width="1.6" fill="none"/>
<path d="M798.3090909090909,1327.5 V1339.0 M791.3090909090909,1327.5 H805.3090909090909 M791.3090909090909,1339.0 H805.3090909090909" stroke="#595959" stroke-width="1.6" fill="none"/>
<text class="sf" transform="translate(803.2090909090908,1431.3) rotate(-90)" font-size="32" text-anchor="end" style="">10.8</text>
<rect x="816.7363636363635" y="1281.5" width="12" height="131.79999999999995" fill="#000"/>
<rect x="829.3363636363636" y="1330.0" width="12.0" height="83.29999999999995" fill="#000"/>
<rect x="831.9363636363636" y="1332.6" width="6.8" height="80.69999999999996" fill="url(#hatchS)"/>
<rect x="816.7363636363635" y="1421.8" width="23" height="4.6" fill="#000"/>
<path d="M822.7363636363635,1280.5 V1282.5 M815.7363636363635,1280.5 H829.7363636363635 M815.7363636363635,1282.5 H829.7363636363635" stroke="#595959" stroke-width="1.6" fill="none"/>
<path d="M835.3363636363636,1327.0 V1334.0 M828.3363636363636,1327.0 H842.3363636363636 M828.3363636363636,1334.0 H842.3363636363636" stroke="#595959" stroke-width="1.6" fill="none"/>
<text class="sf" transform="translate(840.2363636363635,1431.3) rotate(-90)" font-size="32" text-anchor="end" style="">12</text>
<rect x="853.7636363636362" y="1254.5" width="12" height="158.79999999999995" fill="#000"/>
<rect x="866.3636363636363" y="1300.0" width="12.0" height="113.29999999999995" fill="#000"/>
<rect x="868.9636363636363" y="1302.6" width="6.8" height="110.69999999999996" fill="url(#hatchS)"/>
<rect x="853.7636363636362" y="1421.8" width="23" height="4.6" fill="#000"/>
<path d="M859.7636363636362,1253.5 V1256.0 M852.7636363636362,1253.5 H866.7636363636362 M852.7636363636362,1256.0 H866.7636363636362" stroke="#595959" stroke-width="1.6" fill="none"/>
<path d="M872.3636363636363,1297.5 V1303.0 M865.3636363636363,1297.5 H879.3636363636363 M865.3636363636363,1303.0 H879.3636363636363" stroke="#595959" stroke-width="1.6" fill="none"/>
<text class="sf" transform="translate(877.2636363636362,1431.3) rotate(-90)" font-size="32" text-anchor="end" style="">13.2</text>
<rect x="890.790909090909" y="1237.5" width="12" height="175.79999999999995" fill="#000"/>
<rect x="903.3909090909091" y="1291.0" width="12.0" height="122.29999999999995" fill="#000"/>
<rect x="905.9909090909091" y="1293.6" width="6.8" height="119.69999999999996" fill="url(#hatchS)"/>
<rect x="890.790909090909" y="1421.8" width="23" height="4.6" fill="#000"/>
<path d="M896.790909090909,1236.0 V1239.0 M889.790909090909,1236.0 H903.790909090909 M889.790909090909,1239.0 H903.790909090909" stroke="#595959" stroke-width="1.6" fill="none"/>
<path d="M909.3909090909091,1288.0 V1294.5 M902.3909090909091,1288.0 H916.3909090909091 M902.3909090909091,1294.5 H916.3909090909091" stroke="#595959" stroke-width="1.6" fill="none"/>
<text class="sf" transform="translate(914.290909090909,1431.3) rotate(-90)" font-size="32" text-anchor="end" style="">14.4</text>
<rect x="927.8181818181818" y="1224.0" width="12" height="189.29999999999995" fill="#000"/>
<rect x="940.4181818181818" y="1277.5" width="12.0" height="135.79999999999995" fill="#000"/>
<rect x="943.0181818181818" y="1280.1" width="6.8" height="133.19999999999996" fill="url(#hatchS)"/>
<rect x="927.8181818181818" y="1421.8" width="23" height="4.6" fill="#000"/>
<path d="M933.8181818181818,1221.0 V1227.0 M926.8181818181818,1221.0 H940.8181818181818 M926.8181818181818,1227.0 H940.8181818181818" stroke="#595959" stroke-width="1.6" fill="none"/>
<path d="M946.4181818181818,1275.5 V1280.0 M939.4181818181818,1275.5 H953.4181818181818 M939.4181818181818,1280.0 H953.4181818181818" stroke="#595959" stroke-width="1.6" fill="none"/>
<text class="sf" transform="translate(951.3181818181818,1431.3) rotate(-90)" font-size="32" text-anchor="end" style="">15.6</text>
<rect x="964.8454545454545" y="1242.0" width="12" height="171.29999999999995" fill="#000"/>
<rect x="977.4454545454545" y="1286.0" width="12.0" height="127.29999999999995" fill="#000"/>
<rect x="980.0454545454545" y="1288.6" width="6.8" height="124.69999999999996" fill="url(#hatchS)"/>
<rect x="964.8454545454545" y="1421.8" width="23" height="4.6" fill="#000"/>
<path d="M970.8454545454545,1241.0 V1243.0 M963.8454545454545,1241.0 H977.8454545454545 M963.8454545454545,1243.0 H977.8454545454545" stroke="#595959" stroke-width="1.6" fill="none"/>
<path d="M983.4454545454545,1285.0 V1287.0 M976.4454545454545,1285.0 H990.4454545454545 M976.4454545454545,1287.0 H990.4454545454545" stroke="#595959" stroke-width="1.6" fill="none"/>
<text class="sf" transform="translate(988.3454545454545,1431.3) rotate(-90)" font-size="32" text-anchor="end" style="">16.8</text>
<rect x="1001.8727272727272" y="1145.5" width="12" height="267.79999999999995" fill="#000"/>
<rect x="1014.4727272727272" y="1186.5" width="11.999999999999886" height="226.79999999999995" fill="#000"/>
<rect x="1017.0727272727272" y="1189.1" width="6.799999999999886" height="224.19999999999996" fill="url(#hatchS)"/>
<rect x="1001.8727272727272" y="1421.8" width="23" height="4.6" fill="#000"/>
<path d="M1007.8727272727272,1144.5 V1146.5 M1000.8727272727272,1144.5 H1014.8727272727272 M1000.8727272727272,1146.5 H1014.8727272727272" stroke="#595959" stroke-width="1.6" fill="none"/>
<path d="M1020.4727272727272,1185.5 V1188.0 M1013.4727272727272,1185.5 H1027.4727272727273 M1013.4727272727272,1188.0 H1027.4727272727273" stroke="#595959" stroke-width="1.6" fill="none"/>
<text class="sf" transform="translate(1025.3727272727272,1431.3) rotate(-90)" font-size="32" text-anchor="end" style="">18</text>
<text class="sf" x="784" y="1065" font-size="44" text-anchor="middle" style="font-weight:bold;font-style:italic;" >env</text>
<rect x="752.0" y="1071.3" width="64" height="3.6" fill="#000"/>
<text class="sf" transform="translate(463,1277) rotate(-90)" font-size="34" text-anchor="middle" style="font-weight:bold;">RNA (copies/mL)</text>
<rect x="891.0" y="1068.5" width="18.6" height="18.6" fill="#000"/>
<text class="sf" x="917.5" y="1087.5" font-size="32" text-anchor="start" style="" >Control</text>
<rect x="891.0" y="1110.5" width="18.6" height="18.6" fill="#000"/>
<rect x="893.5" y="1113.0" width="13.600000000000001" height="13.600000000000001" fill="#000"/>
<path d="M893.6,1122.1 L901.6,1113.1 L907.0,1113.1 L907.0,1116.5 L898.0,1126.5 L893.6,1126.5 Z" fill="#fff"/>
<text class="sf" x="917.5" y="1130" font-size="32" text-anchor="start" style="" >IR</text>
<path d="M1255,1139 V1410" stroke="#000" stroke-width="2" fill="none"/>
<path d="M1243,1410 H1657.5" stroke="#000" stroke-width="2" fill="none"/>
<path d="M1243,1140 H1255" stroke="#000" stroke-width="2" fill="none"/>
<text class="sf" x="1227" y="1151" font-size="32" text-anchor="end" style="" >4.0E+05</text>
<path d="M1243,1275 H1255" stroke="#000" stroke-width="2" fill="none"/>
<text class="sf" x="1227" y="1286" font-size="32" text-anchor="end" style="" >2.0E+03</text>
<text class="sf" x="1227" y="1421" font-size="32" text-anchor="end" style="" >1.0E+01</text>
<path d="M1255.0,1410 V1420" stroke="#000" stroke-width="2" fill="none"/>
<path d="M1291.590909090909,1410 V1420" stroke="#000" stroke-width="2" fill="none"/>
<path d="M1328.1818181818182,1410 V1420" stroke="#000" stroke-width="2" fill="none"/>
<path d="M1364.7727272727273,1410 V1420" stroke="#000" stroke-width="2" fill="none"/>
<path d="M1401.3636363636365,1410 V1420" stroke="#000" stroke-width="2" fill="none"/>
<path d="M1437.9545454545455,1410 V1420" stroke="#000" stroke-width="2" fill="none"/>
<path d="M1474.5454545454545,1410 V1420" stroke="#000" stroke-width="2" fill="none"/>
<path d="M1511.1363636363635,1410 V1420" stroke="#000" stroke-width="2" fill="none"/>
<path d="M1547.7272727272727,1410 V1420" stroke="#000" stroke-width="2" fill="none"/>
<path d="M1584.318181818182,1410 V1420" stroke="#000" stroke-width="2" fill="none"/>
<path d="M1620.909090909091,1410 V1420" stroke="#000" stroke-width="2" fill="none"/>
<path d="M1657.5,1410 V1420" stroke="#000" stroke-width="2" fill="none"/>
<rect x="1261.3" y="1288.5" width="12" height="121.5" fill="#000"/>
<rect x="1273.8999999999999" y="1307.5" width="12.0" height="102.5" fill="#000"/>
<rect x="1276.4999999999998" y="1310.1" width="6.8" height="99.9" fill="url(#hatchS)"/>
<rect x="1261.3" y="1414.5" width="23" height="4.6" fill="#000"/>
<path d="M1267.3,1278.5 V1288.5 M1260.3,1278.5 H1274.3" stroke="#595959" stroke-width="1.6" fill="none"/>
<path d="M1279.8999999999999,1294.5 V1307.5 M1272.8999999999999,1294.5 H1286.8999999999999" stroke="#595959" stroke-width="1.6" fill="none"/>
<text class="sf" transform="translate(1284.8,1427) rotate(-90)" font-size="32" text-anchor="end" style="">6</text>
<rect x="1297.890909090909" y="1298.5" width="12" height="111.5" fill="#000"/>
<rect x="1310.4909090909089" y="1362.0" width="12.0" height="48.0" fill="#000"/>
<rect x="1313.0909090909088" y="1364.6" width="6.8" height="45.4" fill="url(#hatchS)"/>
<rect x="1297.890909090909" y="1414.5" width="23" height="4.6" fill="#000"/>
<path d="M1303.890909090909,1284.5 V1298.5 M1296.890909090909,1284.5 H1310.890909090909" stroke="#595959" stroke-width="1.6" fill="none"/>
<path d="M1316.4909090909089,1337.0 V1362.0 M1309.4909090909089,1337.0 H1323.4909090909089" stroke="#595959" stroke-width="1.6" fill="none"/>
<text class="sf" transform="translate(1321.390909090909,1427) rotate(-90)" font-size="32" text-anchor="end" style="">7.2</text>
<rect x="1334.4818181818182" y="1328.5" width="12" height="81.5" fill="#000"/>
<rect x="1347.081818181818" y="1322.0" width="12.0" height="88.0" fill="#000"/>
<rect x="1349.681818181818" y="1324.6" width="6.8" height="85.4" fill="url(#hatchS)"/>
<rect x="1334.4818181818182" y="1414.5" width="23" height="4.6" fill="#000"/>
<path d="M1340.4818181818182,1327.5 V1328.5 M1333.4818181818182,1327.5 H1347.4818181818182" stroke="#595959" stroke-width="1.6" fill="none"/>
<path d="M1353.081818181818,1319.0 V1322.0 M1346.081818181818,1319.0 H1360.081818181818" stroke="#595959" stroke-width="1.6" fill="none"/>
<text class="sf" transform="translate(1357.9818181818182,1427) rotate(-90)" font-size="32" text-anchor="end" style="">8.4</text>
<rect x="1371.0727272727272" y="1300.0" width="12" height="110.0" fill="#000"/>
<rect x="1383.6727272727271" y="1329.0" width="12.0" height="81.0" fill="#000"/>
<rect x="1386.272727272727" y="1331.6" width="6.8" height="78.4" fill="url(#hatchS)"/>
<rect x="1371.0727272727272" y="1414.5" width="23" height="4.6" fill="#000"/>
<path d="M1377.0727272727272,1297.0 V1300.0 M1370.0727272727272,1297.0 H1384.0727272727272" stroke="#595959" stroke-width="1.6" fill="none"/>
<path d="M1389.6727272727271,1309.0 V1329.0 M1382.6727272727271,1309.0 H1396.6727272727271" stroke="#595959" stroke-width="1.6" fill="none"/>
<text class="sf" transform="translate(1394.5727272727272,1427) rotate(-90)" font-size="32" text-anchor="end" style="">9.6</text>
<rect x="1407.6636363636364" y="1301.0" width="12" height="109.0" fill="#000"/>
<rect x="1420.2636363636364" y="1348.0" width="12.0" height="62.0" fill="#000"/>
<rect x="1422.8636363636363" y="1350.6" width="6.8" height="59.4" fill="url(#hatchS)"/>
<rect x="1407.6636363636364" y="1414.5" width="23" height="4.6" fill="#000"/>
<path d="M1413.6636363636364,1292.5 V1301.0 M1406.6636363636364,1292.5 H1420.6636363636364" stroke="#595959" stroke-width="1.6" fill="none"/>
<path d="M1426.2636363636364,1322.5 V1348.0 M1419.2636363636364,1322.5 H1433.2636363636364" stroke="#595959" stroke-width="1.6" fill="none"/>
<text class="sf" transform="translate(1431.1636363636364,1427) rotate(-90)" font-size="32" text-anchor="end" style="">10.8</text>
<rect x="1444.2545454545455" y="1290.5" width="12" height="119.5" fill="#000"/>
<rect x="1456.8545454545454" y="1331.5" width="12.0" height="78.5" fill="#000"/>
<rect x="1459.4545454545453" y="1334.1" width="6.8" height="75.9" fill="url(#hatchS)"/>
<rect x="1444.2545454545455" y="1414.5" width="23" height="4.6" fill="#000"/>
<path d="M1450.2545454545455,1288.0 V1290.5 M1443.2545454545455,1288.0 H1457.2545454545455" stroke="#595959" stroke-width="1.6" fill="none"/>
<path d="M1462.8545454545454,1315.0 V1331.5 M1455.8545454545454,1315.0 H1469.8545454545454" stroke="#595959" stroke-width="1.6" fill="none"/>
<text class="sf" transform="translate(1467.7545454545455,1427) rotate(-90)" font-size="32" text-anchor="end" style="">12</text>
<rect x="1480.8454545454545" y="1268.5" width="12" height="141.5" fill="#000"/>
<rect x="1493.4454545454544" y="1318.0" width="12.0" height="92.0" fill="#000"/>
<rect x="1496.0454545454543" y="1320.6" width="6.8" height="89.4" fill="url(#hatchS)"/>
<rect x="1480.8454545454545" y="1414.5" width="23" height="4.6" fill="#000"/>
<path d="M1486.8454545454545,1264.0 V1268.5 M1479.8454545454545,1264.0 H1493.8454545454545" stroke="#595959" stroke-width="1.6" fill="none"/>
<path d="M1499.4454545454544,1306.0 V1318.0 M1492.4454545454544,1306.0 H1506.4454545454544" stroke="#595959" stroke-width="1.6" fill="none"/>
<text class="sf" transform="translate(1504.3454545454545,1427) rotate(-90)" font-size="32" text-anchor="end" style="">13.2</text>
<rect x="1517.4363636363635" y="1254.0" width="12" height="156.0" fill="#000"/>
<rect x="1530.0363636363634" y="1300.0" width="12.0" height="110.0" fill="#000"/>
<rect x="1532.6363636363633" y="1302.6" width="6.8" height="107.4" fill="url(#hatchS)"/>
<rect x="1517.4363636363635" y="1414.5" width="23" height="4.6" fill="#000"/>
<path d="M1523.4363636363635,1247.0 V1254.0 M1516.4363636363635,1247.0 H1530.4363636363635" stroke="#595959" stroke-width="1.6" fill="none"/>
<path d="M1536.0363636363634,1298.5 V1300.0 M1529.0363636363634,1298.5 H1543.0363636363634" stroke="#595959" stroke-width="1.6" fill="none"/>
<text class="sf" transform="translate(1540.9363636363635,1427) rotate(-90)" font-size="32" text-anchor="end" style="">14.4</text>
<rect x="1554.0272727272727" y="1243.0" width="12" height="167.0" fill="#000"/>
<rect x="1566.6272727272726" y="1289.0" width="12.0" height="121.0" fill="#000"/>
<rect x="1569.2272727272725" y="1291.6" width="6.8" height="118.4" fill="url(#hatchS)"/>
<rect x="1554.0272727272727" y="1414.5" width="23" height="4.6" fill="#000"/>
<path d="M1560.0272727272727,1239.0 V1243.0 M1553.0272727272727,1239.0 H1567.0272727272727" stroke="#595959" stroke-width="1.6" fill="none"/>
<path d="M1572.6272727272726,1282.0 V1289.0 M1565.6272727272726,1282.0 H1579.6272727272726" stroke="#595959" stroke-width="1.6" fill="none"/>
<text class="sf" transform="translate(1577.5272727272727,1427) rotate(-90)" font-size="32" text-anchor="end" style="">15.6</text>
<rect x="1590.618181818182" y="1253.5" width="12" height="156.5" fill="#000"/>
<rect x="1603.2181818181818" y="1296.0" width="12.0" height="114.0" fill="#000"/>
<rect x="1605.8181818181818" y="1298.6" width="6.8" height="111.4" fill="url(#hatchS)"/>
<rect x="1590.618181818182" y="1414.5" width="23" height="4.6" fill="#000"/>
<path d="M1596.618181818182,1249.0 V1253.5 M1589.618181818182,1249.0 H1603.618181818182" stroke="#595959" stroke-width="1.6" fill="none"/>
<path d="M1609.2181818181818,1292.5 V1296.0 M1602.2181818181818,1292.5 H1616.2181818181818" stroke="#595959" stroke-width="1.6" fill="none"/>
<text class="sf" transform="translate(1614.118181818182,1427) rotate(-90)" font-size="32" text-anchor="end" style="">16.8</text>
<rect x="1627.209090909091" y="1170.5" width="12" height="239.5" fill="#000"/>
<rect x="1639.8090909090909" y="1199.0" width="12.0" height="211.0" fill="#000"/>
<rect x="1642.4090909090908" y="1201.6" width="6.8" height="208.4" fill="url(#hatchS)"/>
<rect x="1627.209090909091" y="1414.5" width="23" height="4.6" fill="#000"/>
<path d="M1633.209090909091,1165.5 V1170.5 M1626.209090909091,1165.5 H1640.209090909091" stroke="#595959" stroke-width="1.6" fill="none"/>
<path d="M1645.8090909090909,1198.0 V1199.0 M1638.8090909090909,1198.0 H1652.8090909090909" stroke="#595959" stroke-width="1.6" fill="none"/>
<text class="sf" transform="translate(1650.709090909091,1427) rotate(-90)" font-size="32" text-anchor="end" style="">18</text>
<text class="sf" x="1395" y="1064" font-size="44" text-anchor="middle" style="font-weight:bold;font-style:italic;" >tax</text>
<rect x="1366.0" y="1070.3" width="58" height="3.6" fill="#000"/>
<text class="sf" transform="translate(1087,1267) rotate(-90)" font-size="33" text-anchor="middle" style="font-weight:bold;">RNA (copies/mL)</text>
<rect x="1511.0" y="1068.5" width="18.6" height="18.6" fill="#000"/>
<text class="sf" x="1537.5" y="1087.5" font-size="32" text-anchor="start" style="" >Control</text>
<rect x="1511.0" y="1118.0" width="18.6" height="18.6" fill="#000"/>
<rect x="1513.5" y="1120.5" width="13.600000000000001" height="13.600000000000001" fill="#000"/>
<path d="M1513.6,1129.6 L1521.6,1120.6 L1527.0,1120.6 L1527.0,1124.0 L1518.0,1134.0 L1513.6,1134.0 Z" fill="#fff"/>
<text class="sf" x="1537.5" y="1136" font-size="32" text-anchor="start" style="" >IR</text>
<path d="M1889,1139 V1410" stroke="#000" stroke-width="2" fill="none"/>
<path d="M1877,1410 H2292.5" stroke="#000" stroke-width="2" fill="none"/>
<path d="M1877,1157.5 H1889" stroke="#000" stroke-width="2" fill="none"/>
<text class="sf" x="1860" y="1168.5" font-size="32" text-anchor="end" style="" >2.5E+06</text>
<path d="M1877,1283.5 H1889" stroke="#000" stroke-width="2" fill="none"/>
<text class="sf" x="1860" y="1294.5" font-size="32" text-anchor="end" style="" >5.0E+03</text>
<text class="sf" x="1860" y="1421" font-size="32" text-anchor="end" style="" >1.0E+01</text>
<path d="M1889.0,1410 V1420" stroke="#000" stroke-width="2" fill="none"/>
<path d="M1925.6818181818182,1410 V1420" stroke="#000" stroke-width="2" fill="none"/>
<path d="M1962.3636363636363,1410 V1420" stroke="#000" stroke-width="2" fill="none"/>
<path d="M1999.0454545454545,1410 V1420" stroke="#000" stroke-width="2" fill="none"/>
<path d="M2035.7272727272727,1410 V1420" stroke="#000" stroke-width="2" fill="none"/>
<path d="M2072.409090909091,1410 V1420" stroke="#000" stroke-width="2" fill="none"/>
<path d="M2109.090909090909,1410 V1420" stroke="#000" stroke-width="2" fill="none"/>
<path d="M2145.772727272727,1410 V1420" stroke="#000" stroke-width="2" fill="none"/>
<path d="M2182.4545454545455,1410 V1420" stroke="#000" stroke-width="2" fill="none"/>
<path d="M2219.1363636363635,1410 V1420" stroke="#000" stroke-width="2" fill="none"/>
<path d="M2255.818181818182,1410 V1420" stroke="#000" stroke-width="2" fill="none"/>
<path d="M2292.5,1410 V1420" stroke="#000" stroke-width="2" fill="none"/>
<rect x="1895.0" y="1282.5" width="12.5" height="127.5" fill="#000"/>
<rect x="1895.0" y="1413" width="24.0" height="4.6" fill="#000"/>
<path d="M1901.25,1275.0 V1295.0 M1894.25,1275.0 H1908.25 M1894.25,1295.0 H1908.25" stroke="#595959" stroke-width="1.6" fill="none"/>
<text class="sf" transform="translate(1919.5,1427) rotate(-90)" font-size="32" text-anchor="end" style="">6</text>
<rect x="1931.6818181818182" y="1307.5" width="12.5" height="102.5" fill="#000"/>
<rect x="1944.7818181818182" y="1315.0" width="12.5" height="95.0" fill="#000"/>
<rect x="1947.381818181818" y="1317.6" width="7.3" height="92.4" fill="url(#hatchS)"/>
<rect x="1931.6818181818182" y="1413" width="24.0" height="4.6" fill="#000"/>
<path d="M1937.9318181818182,1295.5 V1352.5 M1930.9318181818182,1295.5 H1944.9318181818182 M1930.9318181818182,1352.5 H1944.9318181818182" stroke="#595959" stroke-width="1.6" fill="none"/>
<path d="M1951.0318181818182,1295.0 V1316.0 M1944.0318181818182,1295.0 H1958.0318181818182 M1944.0318181818182,1316.0 H1958.0318181818182" stroke="#595959" stroke-width="1.6" fill="none"/>
<text class="sf" transform="translate(1956.1818181818182,1427) rotate(-90)" font-size="32" text-anchor="end" style="">7.2</text>
<rect x="1968.3636363636363" y="1291.0" width="12.5" height="119.0" fill="#000"/>
<rect x="1981.4636363636362" y="1312.5" width="12.5" height="97.5" fill="#000"/>
<rect x="1984.063636363636" y="1315.1" width="7.3" height="94.9" fill="url(#hatchS)"/>
<rect x="1968.3636363636363" y="1413" width="24.0" height="4.6" fill="#000"/>
<path d="M1974.6136363636363,1276.5 V1292.5 M1967.6136363636363,1276.5 H1981.6136363636363 M1967.6136363636363,1292.5 H1981.6136363636363" stroke="#595959" stroke-width="1.6" fill="none"/>
<path d="M1987.7136363636362,1292.5 V1313.0 M1980.7136363636362,1292.5 H1994.7136363636362 M1980.7136363636362,1313.0 H1994.7136363636362" stroke="#595959" stroke-width="1.6" fill="none"/>
<text class="sf" transform="translate(1992.8636363636363,1427) rotate(-90)" font-size="32" text-anchor="end" style="">8.4</text>
<rect x="2005.0454545454545" y="1306.5" width="12.5" height="103.5" fill="#000"/>
<rect x="2018.1454545454544" y="1311.0" width="12.5" height="99.0" fill="#000"/>
<rect x="2020.7454545454543" y="1313.6" width="7.3" height="96.4" fill="url(#hatchS)"/>
<rect x="2005.0454545454545" y="1413" width="24.0" height="4.6" fill="#000"/>
<path d="M2011.2954545454545,1292.5 V1307.5 M2004.2954545454545,1292.5 H2018.2954545454545 M2004.2954545454545,1307.5 H2018.2954545454545" stroke="#595959" stroke-width="1.6" fill="none"/>
<path d="M2024.3954545454544,1291.0 V1311.0 M2017.3954545454544,1291.0 H2031.3954545454544 M2017.3954545454544,1311.0 H2031.3954545454544" stroke="#595959" stroke-width="1.6" fill="none"/>
<text class="sf" transform="translate(2029.5454545454545,1427) rotate(-90)" font-size="32" text-anchor="end" style="">9.6</text>
<rect x="2041.7272727272727" y="1280.0" width="12.5" height="130.0" fill="#000"/>
<rect x="2054.827272727273" y="1290.0" width="12.5" height="120.0" fill="#000"/>
<rect x="2057.427272727273" y="1292.6" width="7.3" height="117.4" fill="url(#hatchS)"/>
<rect x="2041.7272727272727" y="1413" width="24.0" height="4.6" fill="#000"/>
<path d="M2047.9772727272727,1275.0 V1287.5 M2040.9772727272727,1275.0 H2054.977272727273 M2040.9772727272727,1287.5 H2054.977272727273" stroke="#595959" stroke-width="1.6" fill="none"/>
<path d="M2061.077272727273,1276.5 V1350.0 M2054.077272727273,1276.5 H2068.077272727273 M2054.077272727273,1350.0 H2068.077272727273" stroke="#595959" stroke-width="1.6" fill="none"/>
<text class="sf" transform="translate(2066.227272727273,1427) rotate(-90)" font-size="32" text-anchor="end" style="">10.8</text>
<rect x="2078.409090909091" y="1278.0" width="12.5" height="132.0" fill="#000"/>
<rect x="2078.409090909091" y="1413" width="24.0" height="4.6" fill="#000"/>
<path d="M2084.659090909091,1270.0 V1290.0 M2077.659090909091,1270.0 H2091.659090909091 M2077.659090909091,1290.0 H2091.659090909091" stroke="#595959" stroke-width="1.6" fill="none"/>
<text class="sf" transform="translate(2102.909090909091,1427) rotate(-90)" font-size="32" text-anchor="end" style="">12</text>
<rect x="2115.090909090909" y="1259.0" width="12.5" height="151.0" fill="#000"/>
<rect x="2128.190909090909" y="1278.0" width="12.5" height="132.0" fill="#000"/>
<rect x="2130.790909090909" y="1280.6" width="7.3" height="129.4" fill="url(#hatchS)"/>
<rect x="2115.090909090909" y="1413" width="24.0" height="4.6" fill="#000"/>
<path d="M2121.340909090909,1255.0 V1265.0 M2114.340909090909,1255.0 H2128.340909090909 M2114.340909090909,1265.0 H2128.340909090909" stroke="#595959" stroke-width="1.6" fill="none"/>
<path d="M2134.440909090909,1268.5 V1298.5 M2127.440909090909,1268.5 H2141.440909090909 M2127.440909090909,1298.5 H2141.440909090909" stroke="#595959" stroke-width="1.6" fill="none"/>
<text class="sf" transform="translate(2139.590909090909,1427) rotate(-90)" font-size="32" text-anchor="end" style="">13.2</text>
<rect x="2151.772727272727" y="1243.5" width="12.5" height="166.5" fill="#000"/>
<rect x="2164.872727272727" y="1271.5" width="12.5" height="138.5" fill="#000"/>
<rect x="2167.472727272727" y="1274.1" width="7.3" height="135.9" fill="url(#hatchS)"/>
<rect x="2151.772727272727" y="1413" width="24.0" height="4.6" fill="#000"/>
<path d="M2158.022727272727,1242.0 V1245.0 M2151.022727272727,1242.0 H2165.022727272727 M2151.022727272727,1245.0 H2165.022727272727" stroke="#595959" stroke-width="1.6" fill="none"/>
<path d="M2171.122727272727,1266.0 V1277.5 M2164.122727272727,1266.0 H2178.122727272727 M2164.122727272727,1277.5 H2178.122727272727" stroke="#595959" stroke-width="1.6" fill="none"/>
<text class="sf" transform="translate(2176.272727272727,1427) rotate(-90)" font-size="32" text-anchor="end" style="">14.4</text>
<rect x="2188.4545454545455" y="1246.0" width="12.5" height="164.0" fill="#000"/>
<rect x="2201.5545454545454" y="1271.0" width="12.5" height="139.0" fill="#000"/>
<rect x="2204.1545454545453" y="1273.6" width="7.3" height="136.4" fill="url(#hatchS)"/>
<rect x="2188.4545454545455" y="1413" width="24.0" height="4.6" fill="#000"/>
<path d="M2194.7045454545455,1245.0 V1247.0 M2187.7045454545455,1245.0 H2201.7045454545455 M2187.7045454545455,1247.0 H2201.7045454545455" stroke="#595959" stroke-width="1.6" fill="none"/>
<path d="M2207.8045454545454,1266.5 V1277.0 M2200.8045454545454,1266.5 H2214.8045454545454 M2200.8045454545454,1277.0 H2214.8045454545454" stroke="#595959" stroke-width="1.6" fill="none"/>
<text class="sf" transform="translate(2212.9545454545455,1427) rotate(-90)" font-size="32" text-anchor="end" style="">15.6</text>
<rect x="2225.1363636363635" y="1254.0" width="12.5" height="156.0" fill="#000"/>
<rect x="2238.2363636363634" y="1281.5" width="12.5" height="128.5" fill="#000"/>
<rect x="2240.8363636363633" y="1284.1" width="7.3" height="125.9" fill="url(#hatchS)"/>
<rect x="2225.1363636363635" y="1413" width="24.0" height="4.6" fill="#000"/>
<path d="M2231.3863636363635,1249.0 V1260.0 M2224.3863636363635,1249.0 H2238.3863636363635 M2224.3863636363635,1260.0 H2238.3863636363635" stroke="#595959" stroke-width="1.6" fill="none"/>
<path d="M2244.4863636363634,1276.0 V1292.5 M2237.4863636363634,1276.0 H2251.4863636363634 M2237.4863636363634,1292.5 H2251.4863636363634" stroke="#595959" stroke-width="1.6" fill="none"/>
<text class="sf" transform="translate(2249.6363636363635,1427) rotate(-90)" font-size="32" text-anchor="end" style="">16.8</text>
<rect x="2261.818181818182" y="1195.0" width="12.5" height="215.0" fill="#000"/>
<rect x="2274.918181818182" y="1211.0" width="12.5" height="199.0" fill="#000"/>
<rect x="2277.518181818182" y="1213.6" width="7.3" height="196.4" fill="url(#hatchS)"/>
<rect x="2261.818181818182" y="1413" width="24.0" height="4.6" fill="#000"/>
<path d="M2268.068181818182,1192.0 V1196.0 M2261.068181818182,1192.0 H2275.068181818182 M2261.068181818182,1196.0 H2275.068181818182" stroke="#595959" stroke-width="1.6" fill="none"/>
<path d="M2281.168181818182,1210.0 V1212.0 M2274.168181818182,1210.0 H2288.168181818182 M2274.168181818182,1212.0 H2288.168181818182" stroke="#595959" stroke-width="1.6" fill="none"/>
<text class="sf" transform="translate(2286.318181818182,1427) rotate(-90)" font-size="32" text-anchor="end" style="">18</text>
<text class="sf" x="2044" y="1064" font-size="44" text-anchor="middle" style="font-weight:bold;font-style:italic;" >hbz</text>
<rect x="2011.0" y="1070.3" width="66" height="3.6" fill="#000"/>
<text class="sf" transform="translate(1727,1266) rotate(-90)" font-size="33" text-anchor="middle" style="font-weight:bold;">RNA (copies/mL)</text>
<rect x="2153.5" y="1068.5" width="18.6" height="18.6" fill="#000"/>
<text class="sf" x="2180" y="1087.5" font-size="32" text-anchor="start" style="" >Control</text>
<rect x="2153.5" y="1117.0" width="18.6" height="18.6" fill="#000"/>
<rect x="2156.0" y="1119.5" width="13.600000000000001" height="13.600000000000001" fill="#000"/>
<path d="M2156.1,1128.6 L2164.1,1119.6 L2169.5,1119.6 L2169.5,1123.0 L2160.5,1133.0 L2156.1,1133.0 Z" fill="#fff"/>
<text class="sf" x="2180" y="1135" font-size="32" text-anchor="start" style="" >IR</text>
</svg>
</body></html>
